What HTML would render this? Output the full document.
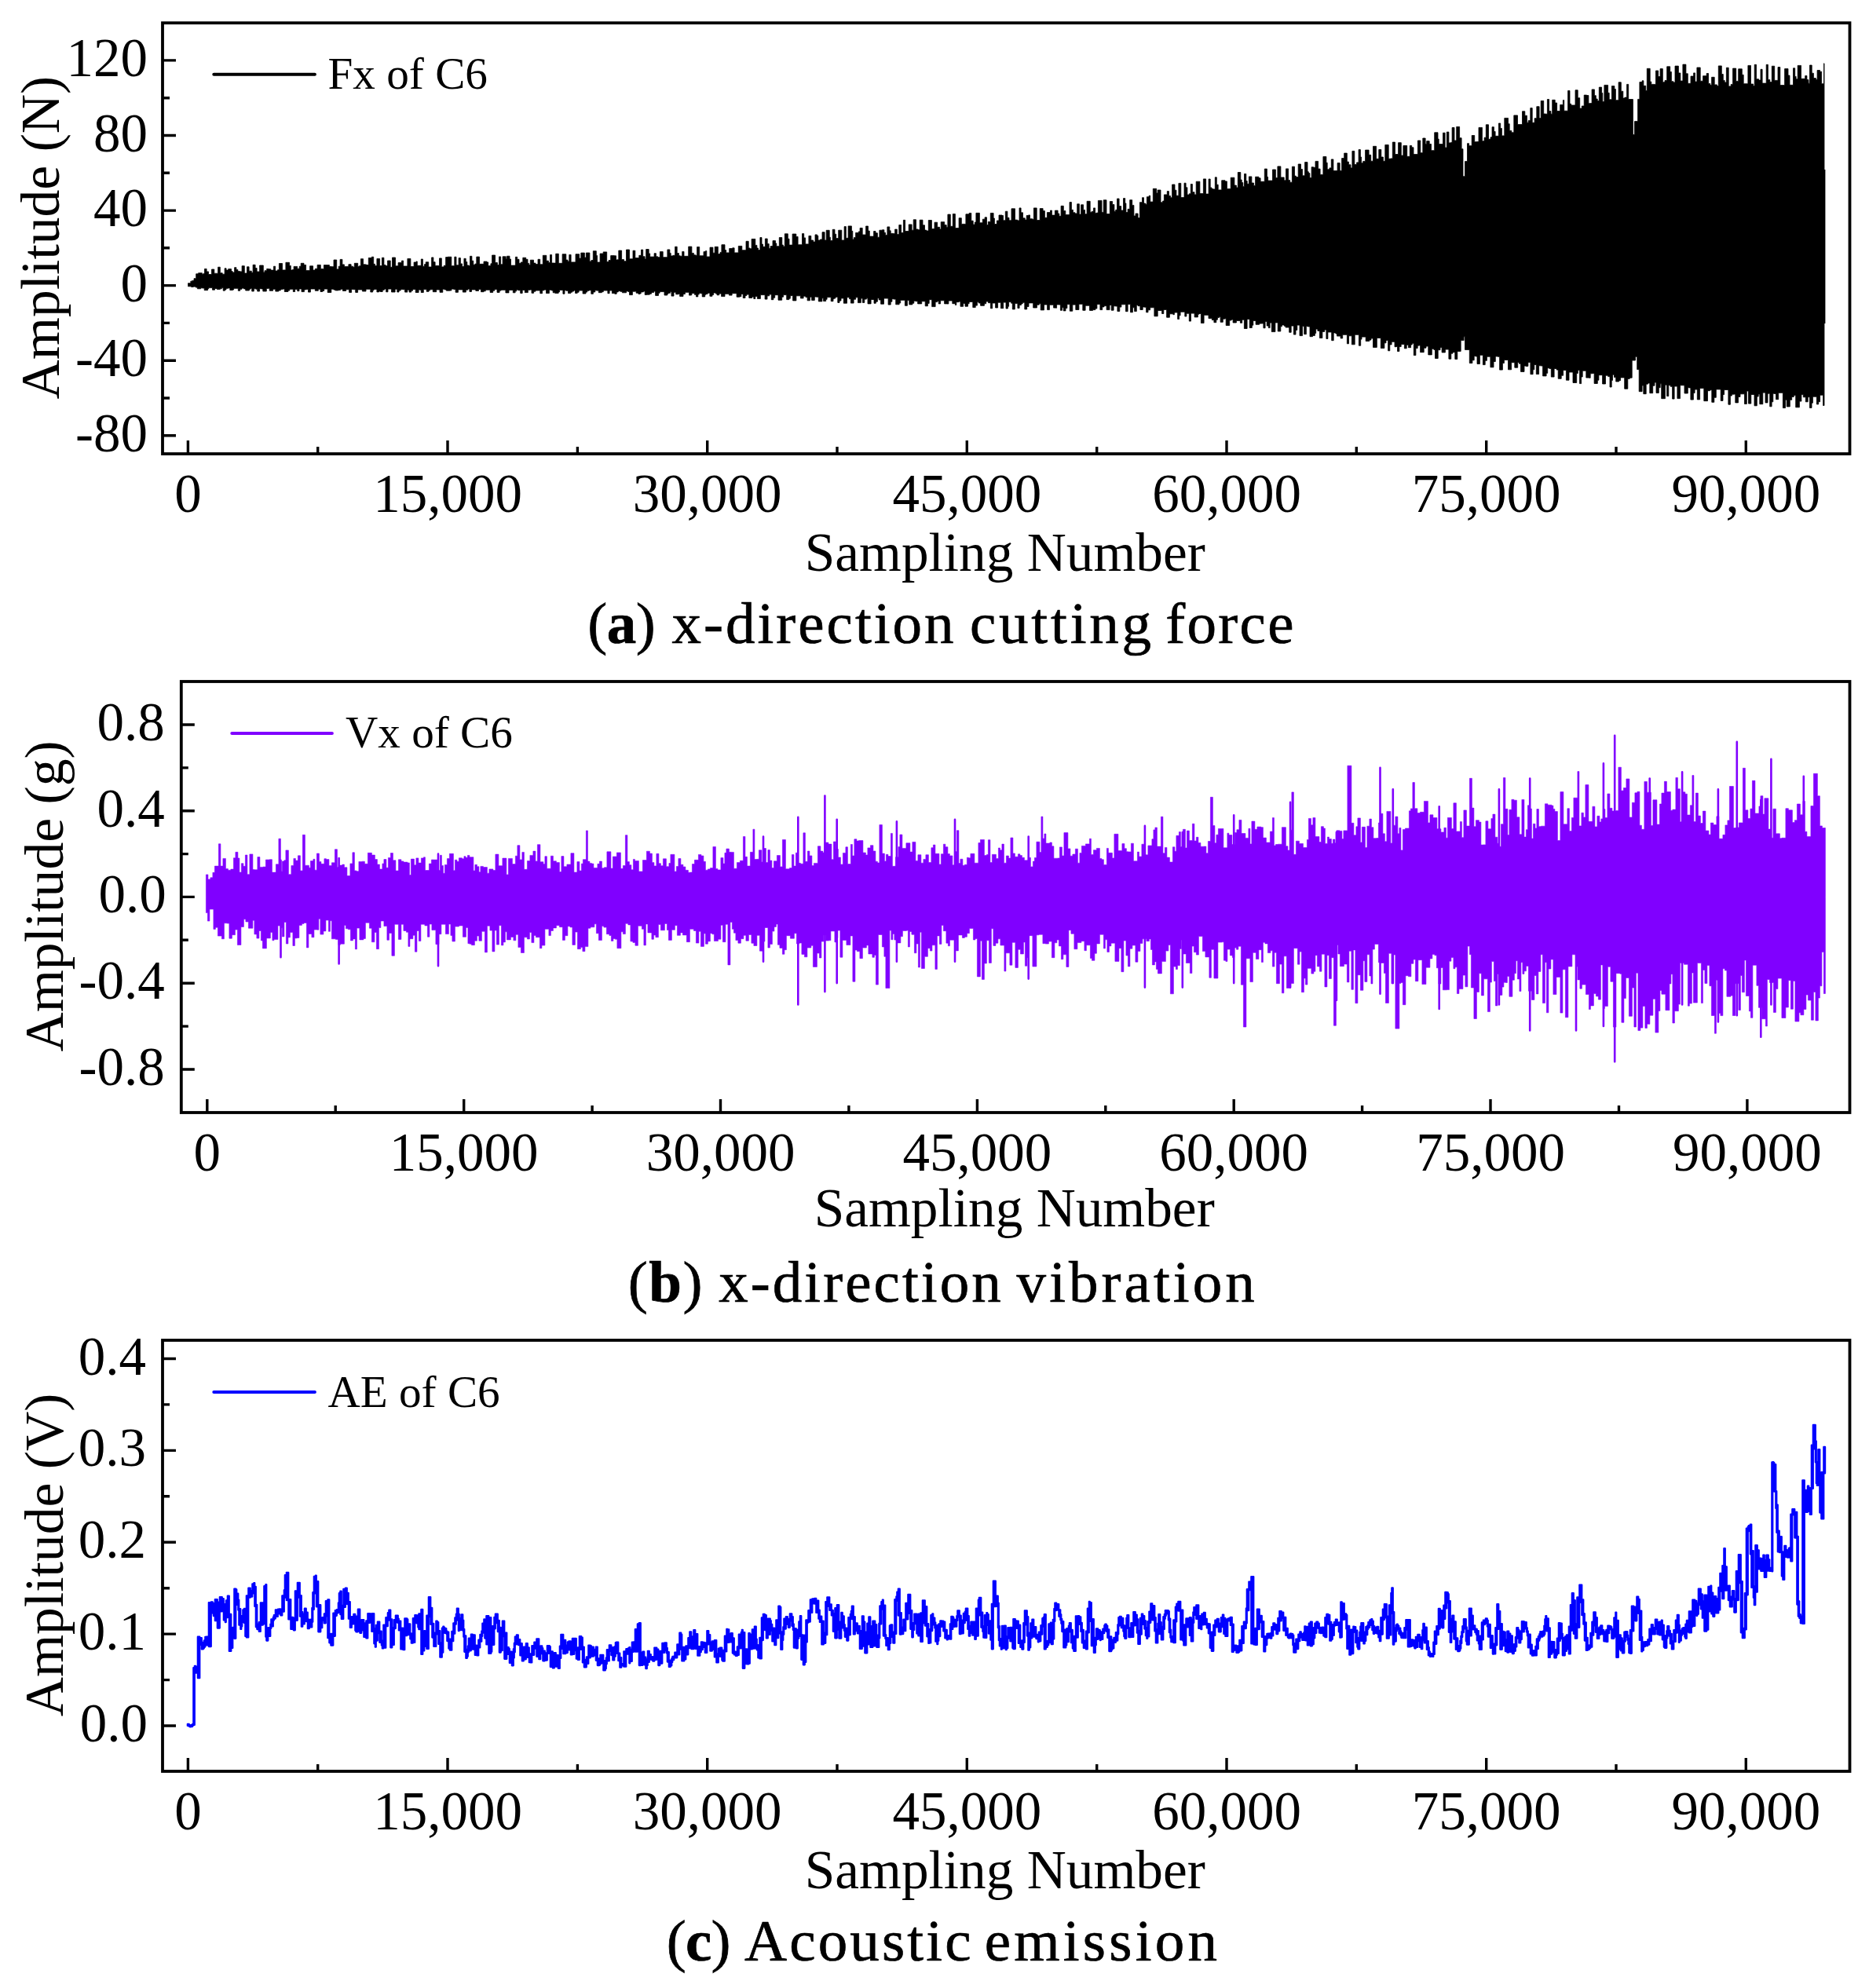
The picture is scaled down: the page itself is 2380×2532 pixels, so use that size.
<!DOCTYPE html>
<html lang="en"><head><meta charset="utf-8"><title>Signals of C6</title>
<style>html,body{margin:0;padding:0;background:#fff;overflow:hidden}svg{display:block}text{font-family:"Liberation Serif","Times New Roman",Times,serif;fill:#000}</style></head><body>
<svg width="2380" height="2532" viewBox="0 0 2380 2532">
<rect width="2380" height="2532" fill="#fff"/>
<path d="M239.5 363.6V360.7H242.8V358.2H244.7V357.5H247.0V354.7H249.7V348.8H252.6V347.7H257.3V349.3H258.9V348.5H260.5V342.4H263.1V345.9H265.5V349.5H269.5V343.0H272.8V348.2H277.6V340.2H280.3V347.7H283.2V349.2H286.1V341.8H288.1V344.1H290.7V342.6H294.5V345.5H296.1V346.9H298.6V340.7H300.9V343.5H302.9V345.6H305.6V345.9H308.1V338.7H311.3V348.0H314.5V339.8H317.1V345.2H320.3V347.3H322.1V337.3H325.1V341.5H327.1V346.0H330.6V338.0H335.3V347.0H337.0V344.7H339.7V342.4H342.3V342.7H344.8V344.1H348.5V339.2H350.6V345.0H353.5V343.7H355.4V335.5H359.5V343.9H363.9V334.3H368.5V338.4H370.3V344.0H372.4V343.5H374.1V339.4H378.6V342.2H381.2V339.2H383.2V335.3H387.0V337.4H389.6V344.6H394.6V338.8H398.6V344.1H401.3V342.3H404.1V337.4H408.3V342.4H410.8V342.7H412.4V337.6H417.2V337.6H419.4V339.5H422.4V339.7H425.0V331.0H428.7V342.9H431.2V339.2H433.1V330.4H435.9V336.9H438.4V339.6H441.4V339.4H443.9V336.7H447.1V339.2H449.6V340.3H451.3V335.3H455.7V339.4H457.5V338.7H459.4V329.7H462.5V336.8H464.9V336.9H466.5V337.5H469.3V328.4H473.3V327.2H475.7V336.3H477.4V338.6H479.9V329.5H483.6V338.6H486.4V328.2H488.9V337.4H490.9V338.6H493.5V332.0H497.2V340.3H499.5V328.0H503.5V338.8H507.1V334.6H511.5V332.1H513.6V339.0H518.9V329.4H522.9V339.5H527.1V334.0H530.0V333.0H531.3V338.3H536.3V330.0H538.4V339.2H540.5V336.6H542.2V333.8H545.7V340.0H549.6V327.9H551.9V333.7H554.1V338.4H559.5V328.9H562.3V339.9H565.3V338.2H567.6V327.6H570.1V327.2H574.8V338.7H578.8V327.2H581.0V337.8H584.1V328.6H586.4V335.9H588.5V339.5H590.9V329.3H593.2V333.5H594.8V337.9H596.9V338.6H598.5V326.3H600.9V332.2H602.8V337.2H605.0V336.1H606.8V327.1H610.5V336.3H616.0V333.1H620.0V333.9H621.7V338.6H624.9V335.8H626.6V325.0H630.6V334.5H633.4V337.5H635.5V326.9H637.6V336.8H640.1V326.8H644.2V329.7H645.5V326.2H649.0V330.0H650.5V338.1H656.4V327.3H658.7V330.3H661.0V335.3H663.4V333.9H665.8V328.2H669.7V330.3H672.0V335.4H673.7V337.4H675.3V331.2H679.5V335.1H682.0V336.6H685.0V330.3H687.7V336.8H691.3V325.3H695.8V332.2H698.5V334.5H700.5V324.5H702.6V335.0H705.7V335.1H707.7V323.2H711.3V335.3H716.1V323.7H720.8V331.1H723.0V333.1H724.8V324.4H727.1V333.9H733.0V323.7H737.7V329.1H739.8V322.1H744.4V328.1H746.3V322.0H750.9V333.0H752.9V331.5H755.3V319.7H759.3V325.5H760.5V334.0H764.1V323.0H768.2V320.9H772.7V333.6H775.1V331.5H777.7V325.6H782.4V325.8H784.5V331.0H786.1V330.8H787.8V319.1H791.6V330.6H794.5V332.7H797.5V318.0H801.5V329.8H806.0V319.2H808.8V328.6H813.8V325.3H816.5V318.1H818.7V326.7H821.1V330.0H822.7V317.5H826.2V322.9H827.7V327.1H833.1V322.7H835.4V326.8H837.7V327.7H840.4V320.6H844.2V327.7H849.9V317.9H852.9V322.4H854.2V325.9H856.9V325.3H859.6V314.2H862.2V322.5H864.4V325.7H866.1V326.2H868.7V320.4H871.0V326.3H876.7V314.1H880.9V322.4H883.4V324.7H885.6V325.3H887.6V314.5H890.7V325.8H896.0V320.6H898.5V319.6H899.8V327.0H904.0V315.1H907.9V322.2H910.2V314.3H914.3V323.5H917.0V321.4H918.9V311.7H923.0V318.6H924.7V321.9H928.7V316.5H932.7V315.8H935.1V321.9H940.3V313.4H944.8V318.7H950.0V307.3H953.2V315.9H954.9V316.8H957.1V304.4H961.8V312.4H963.9V316.0H965.5V318.5H967.9V302.5H970.0V311.1H971.5V314.3H974.4V304.0H977.2V310.6H979.2V316.6H981.1V313.6H984.0V306.6H987.5V309.9H988.8V313.7H992.3V302.5H995.8V312.0H997.3V313.9H999.3V297.8H1003.3V304.2H1005.0V312.1H1009.1V298.0H1013.8V301.4H1016.1V311.7H1021.5V297.6H1023.7V302.9H1025.6V310.9H1029.9V300.4H1032.8V306.0H1035.7V308.1H1038.0V298.9H1040.5V300.2H1041.8V306.0H1044.5V304.9H1047.0V295.7H1050.1V306.0H1052.2V293.3H1056.2V302.2H1057.4V306.5H1060.2V292.3H1063.0V298.2H1064.7V303.6H1067.7V293.2H1071.8V306.0H1075.1V288.6H1077.3V303.3H1080.1V287.9H1084.4V294.3H1085.8V305.0H1087.4V302.6H1089.6V296.4H1093.4V294.9H1095.1V290.4H1098.2V299.0H1102.6V288.0H1105.5V294.1H1107.3V301.1H1112.6V294.5H1115.0V296.8H1117.4V302.2H1119.9V293.2H1123.4V292.8H1125.9V296.3H1127.5V299.4H1129.9V288.9H1132.8V293.8H1134.2V297.3H1137.2V297.6H1139.6V292.1H1142.3V298.6H1144.8V286.5H1147.6V296.5H1150.4V280.3H1152.6V294.5H1157.2V285.9H1161.1V293.2H1163.2V279.8H1166.5V291.9H1168.9V292.7H1171.2V280.2H1175.0V286.8H1177.5V293.1H1179.7V294.0H1182.3V280.5H1186.4V291.6H1190.0V283.2H1193.6V289.3H1196.6V292.0H1198.2V282.7H1202.7V286.6H1205.2V289.4H1206.9V273.1H1210.3V288.3H1213.3V272.5H1216.4V290.6H1221.1V277.7H1224.3V285.4H1229.9V272.8H1234.1V271.4H1236.8V281.2H1239.2V286.1H1241.3V283.1H1242.9V271.3H1247.4V283.8H1251.3V279.2H1254.1V276.8H1256.5V286.6H1258.3V282.4H1261.3V271.4H1265.1V278.0H1266.4V285.5H1269.4V281.0H1272.0V274.0H1276.0V274.5H1277.5V280.8H1280.3V269.2H1282.9V277.3H1285.0V280.8H1288.0V265.8H1292.5V280.1H1295.7V280.9H1298.0V264.9H1300.1V270.8H1302.5V277.8H1305.2V280.1H1307.2V274.5H1309.7V273.9H1311.5V278.7H1314.6V279.3H1316.4V264.9H1320.2V280.5H1324.2V265.6H1328.1V268.6H1330.4V277.3H1333.4V270.6H1337.5V268.0H1339.4V274.1H1343.4V268.1H1347.1V272.0H1348.8V275.3H1351.1V262.3H1354.3V268.5H1356.8V273.6H1362.0V257.5H1364.4V267.3H1366.4V270.7H1368.9V271.9H1371.7V259.8H1374.4V273.1H1376.6V260.8H1379.6V267.4H1381.5V272.7H1384.1V256.3H1388.2V270.2H1390.4V269.3H1392.5V264.9H1394.6V271.4H1396.5V271.1H1398.4V255.4H1403.0V270.4H1405.2V254.8H1409.0V272.5H1413.3V256.6H1416.6V260.5H1418.9V269.2H1420.7V267.3H1422.5V253.0H1425.1V262.6H1427.7V268.0H1430.5V252.6H1432.7V258.9H1433.9V270.5H1436.1V266.3H1438.7V254.7H1441.7V261.4H1443.9V275.0H1446.0V272.0H1449.1V277.6H1451.4V257.7H1454.5V251.7H1456.5V259.0H1458.7V260.2H1460.4V250.7H1463.2V249.2H1464.7V257.1H1468.3V240.3H1472.7V245.9H1474.2V242.0H1478.0V257.8H1480.6V256.0H1482.4V247.9H1486.3V243.6H1488.4V249.4H1490.6V251.8H1492.6V235.0H1496.0V242.2H1497.9V249.2H1500.9V233.4H1503.8V251.6H1508.0V233.2H1510.1V238.8H1511.9V248.1H1514.3V246.8H1516.3V234.5H1518.4V244.7H1521.0V247.9H1523.2V231.2H1527.9V246.6H1532.4V227.9H1535.6V247.1H1539.1V228.0H1541.2V238.9H1542.9V240.5H1544.7V241.0H1547.3V225.8H1549.3V235.2H1551.2V241.9H1555.7V229.8H1560.0V230.9H1562.4V240.6H1567.2V226.2H1571.9V236.1H1574.4V239.0H1576.3V219.5H1579.8V229.0H1581.2V232.6H1582.8V237.7H1584.5V221.4H1586.8V230.5H1588.2V234.3H1590.4V224.9H1593.9V233.0H1596.6V236.4H1598.6V225.2H1602.9V226.8H1605.1V231.3H1610.3V215.1H1613.4V225.3H1614.6V230.1H1620.5V216.0H1624.4V226.6H1626.9V211.9H1630.9V225.9H1633.2V225.9H1635.2V229.8H1637.5V214.9H1640.6V229.6H1642.7V232.2H1645.4V212.2H1648.5V224.1H1650.3V225.6H1653.2V209.0H1656.5V215.5H1658.5V223.8H1661.6V206.6H1665.0V218.7H1666.3V220.6H1667.9V226.6H1670.1V212.8H1672.7V213.3H1675.0V205.4H1678.6V215.1H1681.1V222.4H1684.9V199.5H1688.9V207.3H1690.2V215.8H1693.0V213.9H1695.3V202.9H1697.9V217.6H1703.1V207.6H1706.2V217.4H1708.6V201.6H1711.7V195.1H1715.3V206.1H1717.4V209.8H1720.0V213.9H1721.9V192.4H1724.8V209.6H1727.6V206.9H1730.1V190.6H1732.4V200.0H1733.6V207.7H1735.7V205.4H1738.6V191.1H1743.1V197.3H1745.7V205.2H1748.5V186.3H1752.5V202.3H1755.8V190.5H1758.8V200.0H1761.4V205.3H1763.8V184.5H1768.2V202.2H1771.1V201.9H1773.3V181.1H1776.5V196.5H1780.6V181.7H1784.3V198.1H1786.9V185.5H1791.7V199.3H1795.3V185.5H1797.7V187.8H1800.0V196.6H1805.4V179.0H1808.8V194.7H1811.8V176.0H1815.1V183.4H1816.7V179.7H1820.2V183.5H1822.5V191.7H1826.7V168.8H1831.0V177.1H1832.2V183.6H1837.5V169.2H1840.1V188.1H1842.3V168.1H1844.9V181.9H1847.6V181.4H1849.1V162.5H1852.0V179.0H1854.7V161.4H1858.6V175.7H1861.1V189.7H1863.0V224.7H1865.5V205.6H1868.5V182.7H1870.6V185.7H1874.2V172.5H1877.7V180.7H1880.2V180.6H1883.0V162.4H1887.4V179.7H1890.1V175.2H1892.3V158.8H1895.5V177.3H1898.1V174.8H1900.0V161.7H1902.4V167.5H1904.1V173.3H1908.4V157.0H1910.7V163.5H1912.4V172.9H1915.8V150.4H1920.5V157.7H1922.2V166.5H1924.8V168.8H1927.8V146.9H1932.5V158.6H1938.5V141.8H1941.8V147.2H1944.4V156.2H1946.2V153.6H1948.8V137.6H1951.2V156.3H1954.1V150.7H1956.8V135.7H1960.1V150.6H1962.2V128.4H1965.7V145.0H1968.1V145.2H1970.4V126.5H1972.6V141.5H1974.9V145.2H1976.7V127.3H1980.2V131.0H1982.6V141.5H1986.7V133.4H1990.4V127.6H1991.7V141.2H1996.6V115.5H1999.0V132.3H2000.7V134.0H2006.0V114.8H2009.2V124.7H2011.7V138.1H2014.3V135.0H2017.2V121.1H2020.6V121.5H2022.9V131.7H2025.1V131.6H2027.1V113.9H2030.4V121.7H2032.3V126.0H2034.2V128.6H2036.3V111.1H2039.6V118.5H2040.8V129.6H2042.9V108.4H2047.6V118.3H2049.2V126.8H2052.4V109.6H2055.9V113.5H2057.4V127.7H2061.1V104.8H2064.3V116.2H2066.8V125.1H2068.9V124.1H2071.6V107.4H2073.7V126.5H2079.4V171.5H2081.5V154.6H2085.6V126.4H2087.9V104.5H2091.1V102.8H2092.9V109.3H2095.7V115.6H2097.3V87.3H2101.2V104.1H2102.8V107.4H2108.5V90.0H2111.7V97.5H2114.1V87.6H2117.3V104.7H2120.0V102.5H2122.7V84.8H2126.7V91.5H2128.4V103.7H2130.9V105.0H2133.0V84.1H2137.4V93.0H2139.9V103.1H2142.9V82.1H2146.9V93.8H2149.3V106.3H2153.0V97.1H2156.6V92.9H2158.5V104.1H2160.9V86.0H2165.2V103.2H2168.6V96.7H2173.2V93.5H2175.5V106.5H2177.9V108.5H2179.6V98.3H2183.2V107.9H2186.4V109.6H2188.3V83.9H2192.3V94.5H2194.3V102.4H2196.2V104.9H2198.4V86.2H2201.2V109.9H2204.2V107.4H2206.6V87.1H2210.7V103.4H2213.7V87.8H2218.3V95.3H2220.2V106.7H2225.9V83.4H2229.5V107.0H2232.6V109.5H2234.2V82.3H2236.5V100.7H2239.5V102.1H2242.0V88.3H2244.1V106.1H2249.2V82.3H2251.4V101.6H2253.8V104.6H2256.3V84.2H2259.7V102.4H2264.0V85.5H2266.8V108.6H2272.6V87.6H2277.0V96.1H2279.0V108.3H2283.5V86.8H2285.7V97.4H2287.1V100.8H2289.2V83.4H2293.5V100.3H2298.7V96.5H2300.9V101.6H2303.0V106.2H2304.5V83.0H2307.2V93.2H2309.4V99.6H2312.4V101.4H2314.1V89.5H2317.5V91.2H2319.6V106.7H2322.6V80.8H2323.0V363.6V516.5H2321.6V503.2H2317.6V511.7H2315.7V514.9H2313.4V505.2H2308.4V513.2H2307.0V519.5H2304.5V505.7H2302.2V511.8H2299.3V505.8H2296.3V502.6H2293.9V511.1H2291.4V518.8H2286.7V503.6H2284.3V505.4H2281.7V509.3H2279.3V517.9H2275.2V509.2H2273.5V519.6H2270.4V500.3H2264.7V508.7H2261.5V501.5H2259.5V501.2H2257.8V511.8H2256.1V517.8H2253.7V501.2H2251.0V512.9H2248.0V500.1H2244.8V514.7H2240.8V501.9H2239.2V505.0H2237.3V516.8H2234.0V502.5H2229.8V514.1H2226.5V498.1H2224.3V514.5H2221.5V501.8H2216.0V505.5H2213.5V512.9H2209.8V502.1H2207.9V502.2H2205.3V504.1H2203.4V515.2H2200.9V496.5H2195.6V502.5H2194.0V510.4H2191.2V495.9H2185.3V506.3H2182.8V512.3H2179.8V496.7H2177.4V497.7H2174.5V510.7H2169.8V494.4H2164.6V508.9H2161.3V496.0H2158.1V500.6H2156.4V509.1H2152.9V493.9H2151.0V493.7H2149.3V501.0H2145.0V490.8H2139.5V507.6H2135.9V492.0H2132.1V508.1H2129.6V492.3H2127.2V490.7H2124.8V504.6H2122.6V490.2H2120.4V507.7H2115.7V488.8H2114.2V493.7H2112.3V500.5H2109.0V487.0H2107.0V491.2H2104.7V500.7H2100.8V488.0H2098.4V489.2H2096.2V501.7H2092.8V490.9H2091.1V498.7H2087.2V470.6H2084.7V454.3H2082.5V459.0H2078.2V481.2H2075.3V482.4H2072.8V495.2H2068.7V480.9H2063.5V484.7H2061.6V486.0H2057.7V480.6H2055.5V477.2H2053.5V484.4H2052.2V493.0H2050.0V479.6H2047.7V478.2H2044.5V489.0H2040.6V477.7H2035.9V484.2H2034.3V488.5H2030.1V475.5H2028.3V475.8H2025.2V481.3H2023.5V481.1H2019.8V472.2H2015.2V480.0H2013.6V488.6H2011.5V471.4H2009.3V475.5H2007.7V487.5H2003.0V474.0H1998.0V484.2H1994.4V471.5H1990.6V478.2H1988.2V482.3H1984.2V471.1H1982.2V469.5H1979.1V480.1H1975.3V469.4H1972.9V468.7H1970.7V475.3H1969.1V478.9H1964.6V466.1H1962.7V465.8H1959.6V476.6H1956.3V464.5H1953.8V470.8H1952.1V476.7H1948.9V461.4H1945.9V466.4H1943.0V466.0H1941.0V473.4H1936.5V463.2H1934.5V461.5H1932.7V468.2H1928.8V461.7H1924.6V470.8H1920.5V458.5H1915.4V462.5H1913.4V471.1H1909.6V454.3H1907.4V453.9H1904.3V460.5H1902.0V467.8H1897.9V454.2H1893.4V459.3H1891.2V464.6H1888.4V452.3H1884.4V463.5H1881.0V453.9H1879.2V453.6H1877.2V458.8H1874.9V462.5H1871.3V445.4H1865.5V428.8H1864.1V433.6H1860.2V447.4H1855.8V457.4H1852.8V448.7H1849.9V450.2H1847.8V457.2H1844.9V445.0H1840.4V448.9H1836.1V442.4H1834.0V445.7H1831.2V456.5H1827.5V445.4H1825.9V444.3H1823.3V451.9H1818.8V441.0H1816.0V443.2H1813.2V448.7H1808.6V439.9H1806.7V440.2H1805.2V443.6H1802.9V452.6H1800.3V437.3H1798.2V439.0H1796.6V442.7H1793.4V439.3H1791.2V443.8H1788.4V438.5H1784.2V441.5H1781.9V447.5H1779.5V441.5H1778.1V441.7H1776.0V435.3H1772.1V438.9H1769.8V446.8H1767.6V433.5H1765.0V436.8H1762.9V443.4H1758.3V430.5H1753.3V442.4H1748.5V431.0H1745.9V433.1H1743.8V434.5H1739.2V429.1H1734.0V432.1H1732.7V440.2H1730.4V426.3H1725.2V438.8H1721.4V427.8H1717.5V437.8H1715.4V426.3H1709.7V430.9H1707.1V428.1H1702.5V425.1H1700.9V423.9H1698.2V433.7H1695.7V423.0H1690.9V431.5H1688.9V419.9H1686.8V422.4H1683.9V430.5H1680.4V421.4H1677.9V419.1H1675.7V424.5H1674.4V427.4H1671.5V428.7H1668.0V415.9H1665.1V415.4H1663.4V425.7H1660.7V415.6H1658.5V427.6H1655.0V414.1H1651.8V420.4H1650.0V426.1H1647.4V415.1H1644.2V423.3H1641.7V417.0H1637.0V415.2H1635.2V413.9H1632.4V415.8H1630.8V422.0H1627.2V410.9H1623.9V422.6H1619.3V411.1H1617.1V417.6H1615.3V415.0H1613.2V409.4H1611.1V417.8H1608.9V411.9H1606.5V412.1H1603.6V413.3H1599.1V408.4H1595.8V414.2H1594.3V417.5H1591.2V406.4H1588.1V418.5H1584.4V407.2H1581.7V411.3H1579.4V408.4H1574.4V411.0H1570.1V406.9H1568.1V408.0H1565.7V414.5H1561.2V405.7H1559.7V406.2H1557.3V410.3H1554.1V403.6H1552.4V404.5H1550.4V407.2H1548.8V410.7H1545.9V407.6H1543.4V405.6H1539.0V401.3H1533.1V411.5H1529.4V399.5H1526.9V400.3H1525.4V403.9H1521.1V399.1H1516.5V409.1H1514.3V399.2H1510.9V403.0H1508.8V397.2H1503.1V401.8H1501.6V406.4H1499.6V398.0H1495.4V400.7H1493.9V399.8H1489.4V404.2H1485.6V394.4H1481.8V399.5H1479.6V395.5H1474.2V402.8H1469.9V391.8H1464.6V394.8H1462.0V397.8H1459.6V391.3H1457.6V391.0H1455.2V394.5H1451.9V389.7H1449.0V388.5H1447.3V396.6H1444.6V391.8H1442.4V397.8H1439.5V387.5H1436.1V396.7H1433.5V387.8H1427.9V391.1H1425.8V396.5H1422.9V390.0H1420.4V389.8H1418.1V395.2H1415.2V388.5H1413.0V394.6H1409.1V389.6H1406.0V390.9H1403.7V394.6H1400.9V387.5H1396.9V393.0H1394.9V394.6H1391.6V395.4H1387.5V389.2H1382.1V395.3H1378.8V387.3H1373.9V394.5H1369.8V388.1H1365.8V396.2H1362.3V387.6H1358.9V392.6H1357.0V395.9H1354.2V391.7H1352.4V395.3H1350.4V388.0H1348.1V387.9H1345.6V392.2H1344.3V392.1H1341.6V388.2H1336.4V394.6H1333.6V388.0H1329.5V394.9H1325.2V386.8H1323.2V388.2H1320.4V392.0H1315.7V385.9H1310.0V390.5H1307.7V393.9H1304.8V385.3H1302.2V386.9H1300.4V388.6H1298.1V392.5H1295.9V386.6H1292.3V393.9H1289.3V386.2H1287.7V384.6H1284.6V390.3H1283.4V393.0H1281.0V385.1H1277.7V392.7H1274.4V385.2H1270.6V392.0H1267.6V386.0H1263.7V392.8H1261.4V385.7H1258.5V384.0H1255.7V386.8H1253.4V389.3H1248.6V386.0H1246.2V384.6H1244.4V389.1H1242.2V391.6H1238.8V384.4H1234.1V386.8H1232.5V390.2H1229.0V386.6H1226.6V390.3H1223.0V384.0H1220.9V384.7H1217.8V388.4H1216.4V386.7H1212.8V383.0H1207.9V387.0H1206.0V386.9H1202.6V382.8H1197.6V386.9H1195.2V383.4H1193.5V384.6H1191.1V390.6H1186.7V381.7H1183.2V386.4H1181.4V389.8H1178.2V383.8H1173.7V386.9H1172.4V386.9H1168.6V383.7H1166.0V383.2H1163.8V386.2H1161.9V387.9H1157.8V382.6H1155.4V389.3H1152.4V382.3H1146.7V386.0H1145.1V387.8H1140.7V381.1H1138.0V380.7H1135.9V384.2H1134.2V388.1H1131.1V380.0H1125.5V387.2H1121.6V382.0H1119.2V379.7H1117.4V384.2H1115.3V386.3H1113.0V381.5H1109.1V386.9H1105.0V379.8H1103.3V381.1H1100.8V385.4H1098.4V380.0H1096.3V385.6H1092.5V378.8H1089.7V381.2H1087.1V386.1H1083.4V380.7H1081.6V378.8H1078.5V386.2H1074.3V379.9H1071.0V383.0H1069.0V385.4H1066.8V378.3H1063.9V380.0H1062.2V380.6H1061.0V383.7H1058.2V378.6H1053.1V381.3H1051.7V383.6H1048.6V379.8H1046.9V383.9H1042.3V378.2H1039.6V378.0H1037.3V382.4H1033.6V378.3H1031.4V382.8H1028.1V378.5H1025.9V377.2H1023.1V379.9H1019.4V376.8H1013.9V382.9H1009.6V376.5H1007.9V376.8H1006.3V380.2H1004.8V381.6H1001.7V375.6H997.5V378.2H995.7V382.2H991.0V375.7H986.7V379.2H984.9V381.7H982.3V374.9H979.7V376.8H977.0V381.1H974.1V375.6H968.4V380.4H964.4V377.4H961.8V380.5H959.8V377.9H957.8V379.4H953.8V375.1H950.8V376.5H949.0V379.5H946.2V374.4H943.9V377.7H941.9V378.2H938.1V373.7H932.1V376.1H928.4V374.3H923.0V377.6H918.6V374.0H915.8V375.8H913.0V374.1H911.4V372.9H908.7V375.4H907.0V377.3H903.9V373.2H901.1V374.5H899.0V375.2H897.7V377.9H894.2V373.8H892.1V373.2H890.3V374.9H888.8V377.9H886.5V375.3H884.4V373.5H880.9V375.8H879.6V376.1H877.5V372.3H872.4V374.5H870.0V377.4H865.6V374.2H864.1V374.8H860.7V372.3H858.0V377.1H855.0V371.4H853.4V373.3H851.0V374.2H849.8V376.0H846.0V371.6H840.1V373.3H838.5V376.4H834.6V371.0H832.7V372.4H829.5V374.2H827.3V375.2H823.7V375.4H821.2V370.9H819.3V371.9H816.2V373.9H815.0V374.4H812.9V373.2H810.1V371.0H808.5V371.2H805.4V375.6H801.5V371.5H800.0V370.9H797.5V372.8H795.7V372.8H792.4V371.3H790.0V370.7H787.2V371.9H785.2V374.3H782.8V373.6H779.4V370.0H776.1V373.7H773.9V370.0H768.3V371.7H766.3V372.7H762.3V370.1H759.6V369.8H757.8V372.0H755.4V374.3H752.8V369.7H750.1V370.3H747.7V372.1H746.0V374.0H742.1V370.0H737.1V372.2H735.2V373.4H732.5V370.0H730.5V371.1H728.6V372.2H726.8V373.6H723.5V370.3H721.0V369.8H719.0V374.2H716.9V369.4H712.5V371.9H711.2V373.4H706.8V372.8H704.2V370.0H702.4V369.3H699.4V373.5H695.5V369.1H692.7V369.9H690.5V373.7H687.8V370.0H681.9V371.2H679.6V373.3H677.0V369.0H674.9V369.3H672.3V372.6H668.3V369.4H665.2V373.4H662.7V369.8H659.8V368.9H657.8V370.8H656.1V372.8H653.3V369.4H648.0V372.9H643.9V369.3H638.1V370.1H636.1V372.4H633.0V368.6H629.8V370.2H627.7V372.4H624.1V369.2H618.3V370.8H616.0V371.7H612.5V368.6H609.5V370.4H605.8V368.9H600.5V371.4H597.9V368.1H595.8V369.3H593.3V372.1H589.3V368.9H583.4V372.3H580.1V368.5H577.7V368.1H574.9V370.0H572.8V370.2H568.3V368.9H566.1V368.2H563.8V372.3H560.0V369.0H557.9V368.9H555.7V371.7H551.3V368.8H547.6V369.8H546.1V371.3H543.2V368.6H539.3V372.5H536.2V369.3H534.7V368.9H533.1V372.5H529.2V368.5H525.5V370.2H523.7V372.1H521.0V369.2H518.8V372.1H515.6V368.8H513.0V368.6H510.2V370.0H508.0V372.0H505.8V368.3H503.1V372.0H498.5V368.1H494.0V371.8H491.6V368.1H489.4V369.3H487.2V371.5H484.2V370.9H482.6V371.9H479.9V368.4H476.0V369.8H474.7V372.0H471.8V368.3H466.0V371.0H461.4V368.9H455.6V372.4H452.7V368.7H450.2V368.4H447.6V372.4H444.6V368.8H440.6V370.5H436.4V368.3H433.6V369.5H430.9V369.9H426.9V369.1H424.9V368.2H421.8V372.5H417.2V368.1H412.7V370.5H410.8V371.5H408.0V368.3H405.3V370.3H401.3V368.0H395.4V372.1H392.5V368.5H389.7V368.9H387.4V371.6H384.0V367.9H381.0V370.7H378.7V368.4H375.6V371.5H373.3V368.3H368.8V370.1H366.9V371.5H362.3V368.1H360.0V368.4H357.3V369.9H354.8V371.1H350.8V368.3H347.6V370.3H343.2V367.3H341.4V367.4H339.3V371.0H334.8V368.0H332.9V367.7H330.6V371.0H327.7V368.3H325.9V367.8H323.3V371.0H320.7V367.3H319.0V368.2H317.4V370.0H312.7V367.9H310.5V367.1H308.0V368.3H305.7V370.3H303.3V367.3H297.6V369.0H296.3V369.6H292.8V366.9H290.4V367.3H288.0V369.0H286.4V370.2H284.2V366.6H282.3V367.8H280.2V368.5H276.3V367.5H273.5V369.2H270.5V366.6H267.6V366.6H265.7V367.9H264.5V369.7H260.2V367.0H257.6V366.8H255.6V367.8H251.4V366.1H249.3V365.1H246.2V365.5H243.6V364.8H239.5Z" fill="#000" stroke="#000" stroke-width="0.8" stroke-linejoin="round"/>
<path d="M2323.4 216V412" stroke="#000" stroke-width="2"/>
<path d="M262.4 1142.4V1113.9H264.9V1119.9H267.9V1117.8H270.9V1111.3H273.4V1103.1H278.4V1074.8H280.9V1103.1H283.9V1093.4H287.4V1106.6H290.4V1108.2H293.9V1107.1H297.4V1092.8H299.9V1085.3H302.9V1093.0H304.9V1111.1H307.4V1099.7H309.9V1103.3H312.4V1089.0H314.9V1113.7H317.9V1087.9H321.9V1107.6H323.9V1107.8H327.9V1091.5H330.9V1104.4H334.9V1104.1H338.4V1095.0H343.4V1094.7H346.4V1111.1H351.4V1100.8H354.9V1068.2H357.4V1110.0H359.4V1096.9H361.9V1095.7H363.9V1082.9H367.4V1113.7H370.9V1102.5H373.9V1093.4H376.4V1096.1H379.4V1089.8H382.4V1109.0H385.4V1063.3H388.4V1102.2H393.4V1105.2H395.4V1096.6H398.9V1094.3H400.9V1108.2H403.4V1087.0H406.4V1097.5H408.9V1100.3H412.9V1093.7H415.4V1094.6H418.9V1102.6H422.4V1098.8H426.4V1081.8H429.4V1104.5H432.4V1102.1H435.9V1101.1H438.4V1104.8H441.9V1115.5H445.9V1099.9H448.9V1085.8H451.4V1108.9H453.9V1109.7H456.9V1097.4H460.9V1097.2H464.4V1100.3H468.4V1086.3H473.4V1089.0H477.4V1094.6H480.4V1101.0H483.4V1107.0H486.9V1100.0H488.9V1094.5H491.9V1105.2H494.4V1092.5H497.4V1086.5H500.4V1095.8H503.9V1109.1H507.4V1094.8H510.9V1096.9H513.9V1098.1H518.9V1098.9H521.4V1114.5H523.4V1094.1H527.4V1101.8H529.9V1092.9H532.9V1099.1H536.4V1092.9H539.4V1091.8H541.4V1108.5H546.4V1100.1H549.4V1095.0H551.9V1095.1H556.9V1108.4H560.4V1089.3H562.4V1102.4H564.4V1112.3H566.4V1101.4H569.4V1093.6H572.4V1087.3H577.4V1108.8H579.4V1095.2H581.9V1097.3H584.4V1092.8H588.4V1093.8H590.9V1090.7H592.9V1092.2H595.4V1089.4H597.9V1091.7H602.9V1109.0H604.9V1101.3H607.4V1103.7H609.9V1110.7H611.9V1103.4H615.4V1104.6H620.4V1112.2H622.9V1106.9H627.9V1108.5H630.9V1088.1H634.9V1102.7H639.9V1093.1H644.9V1114.0H647.4V1093.4H652.4V1100.6H656.4V1090.2H658.9V1076.7H661.9V1094.9H664.9V1085.4H667.4V1107.3H671.4V1096.5H674.9V1089.4H678.9V1084.1H681.9V1096.9H684.4V1075.7H687.9V1097.7H691.9V1100.6H693.9V1090.7H696.4V1106.2H701.4V1090.2H704.4V1096.7H708.4V1098.6H712.4V1110.5H714.9V1090.6H717.9V1103.8H721.9V1101.0H726.9V1086.7H730.9V1111.0H734.9V1097.6H737.9V1109.1H740.4V1100.1H742.4V1094.7H746.4V1057.9H748.4V1097.1H750.9V1099.4H753.4V1100.1H755.9V1105.4H760.9V1100.3H763.4V1097.0H766.4V1105.7H769.4V1104.8H772.9V1084.8H777.9V1106.1H780.4V1091.0H785.4V1085.9H790.4V1106.3H793.4V1102.5H796.4V1063.7H798.9V1097.6H801.4V1101.7H803.9V1107.8H806.4V1094.4H808.4V1096.4H813.4V1110.0H818.4V1095.6H823.4V1084.2H827.4V1087.1H830.4V1098.6H832.9V1102.9H835.9V1087.3H838.9V1099.7H841.4V1102.7H844.4V1093.8H848.4V1103.7H851.9V1099.5H853.9V1088.3H858.9V1110.1H861.4V1103.5H863.9V1093.5H866.9V1101.2H869.9V1104.0H872.9V1108.3H876.4V1111.2H878.9V1111.1H881.4V1100.5H884.4V1095.3H889.4V1088.4H892.9V1090.0H895.9V1097.3H898.4V1108.2H901.4V1106.9H904.4V1105.6H907.9V1078.4H911.4V1106.5H913.9V1107.9H917.9V1092.6H920.9V1100.0H922.9V1086.3H924.9V1081.1H928.4V1085.3H931.4V1085.4H934.4V1106.2H938.4V1098.6H942.4V1096.2H946.4V1065.5H948.9V1091.3H951.4V1103.0H955.4V1085.3H958.9V1056.2H960.9V1094.5H963.4V1094.3H966.4V1082.8H969.9V1097.9H972.9V1080.5H975.4V1098.5H977.9V1082.6H980.4V1096.0H982.9V1105.5H985.4V1096.7H989.4V1089.5H993.4V1103.9H996.4V1069.5H1000.4V1106.8H1005.4V1105.6H1008.4V1088.5H1010.9V1103.1H1013.4V1086.2H1016.4V1099.3H1019.4V1100.2H1022.9V1060.8H1025.4V1097.3H1028.4V1084.0H1030.9V1089.9H1033.9V1102.6H1036.4V1099.4H1041.4V1077.8H1044.9V1084.1H1047.9V1086.0H1049.9V1073.1H1054.9V1075.1H1058.9V1094.7H1061.4V1072.0H1064.4V1081.5H1067.4V1091.9H1070.4V1101.0H1073.4V1086.4H1076.9V1078.8H1079.4V1100.5H1083.4V1075.5H1085.4V1090.0H1087.9V1068.8H1090.9V1071.1H1093.4V1070.6H1095.9V1070.6H1098.9V1086.0H1102.4V1088.9H1104.9V1079.9H1108.4V1076.7H1111.9V1084.0H1114.9V1097.2H1117.4V1098.9H1119.9V1050.5H1123.4V1087.1H1126.4V1096.9H1128.4V1088.3H1130.9V1090.5H1134.4V1061.4H1136.4V1103.3H1140.4V1091.7H1143.9V1078.6H1145.9V1063.0H1148.9V1080.4H1153.9V1073.8H1158.9V1085.1H1161.9V1072.4H1165.9V1096.4H1168.9V1088.7H1172.9V1099.2H1175.9V1094.4H1178.9V1088.7H1182.4V1098.5H1185.9V1079.7H1188.4V1076.1H1190.9V1087.3H1195.9V1100.9H1198.4V1087.7H1201.4V1075.2H1203.9V1078.7H1206.9V1087.5H1209.4V1089.9H1212.9V1101.8H1215.4V1084.4H1218.4V1057.7H1220.9V1099.5H1222.9V1094.2H1225.9V1102.3H1228.4V1101.3H1231.4V1092.2H1233.4V1092.8H1235.9V1087.3H1240.9V1099.2H1245.9V1073.5H1248.4V1069.4H1253.4V1089.5H1256.4V1088.5H1258.4V1069.7H1260.9V1098.6H1263.4V1088.3H1268.4V1093.6H1271.4V1080.0H1273.4V1082.8H1275.9V1075.1H1278.4V1099.2H1281.4V1090.0H1284.4V1093.1H1286.9V1067.0H1289.9V1086.9H1292.4V1091.2H1296.4V1087.8H1298.9V1089.6H1301.4V1092.3H1304.4V1095.8H1309.4V1092.3H1312.4V1103.9H1315.4V1097.1H1317.4V1092.4H1319.9V1072.2H1323.9V1085.5H1325.9V1040.1H1327.9V1068.0H1329.9V1062.0H1331.9V1074.1H1336.9V1073.0H1339.4V1077.8H1341.9V1093.2H1346.9V1093.0H1349.4V1078.9H1352.4V1090.0H1354.9V1060.6H1359.9V1080.9H1362.9V1090.2H1365.9V1088.0H1369.4V1081.2H1372.4V1099.2H1374.9V1086.4H1377.4V1077.4H1382.4V1074.9H1387.4V1068.2H1389.4V1088.5H1392.4V1082.7H1396.4V1080.4H1400.4V1093.5H1402.9V1094.8H1405.4V1101.4H1409.4V1080.4H1411.4V1086.3H1416.4V1092.9H1418.9V1062.3H1423.9V1083.4H1428.9V1074.6H1431.9V1080.7H1434.4V1084.7H1436.4V1084.9H1440.4V1074.2H1443.4V1096.8H1448.4V1085.1H1450.4V1091.0H1453.9V1075.2H1456.9V1088.8H1461.9V1077.0H1466.9V1068.7H1468.9V1056.9H1470.9V1054.0H1473.4V1078.1H1478.4V1040.2H1480.9V1086.7H1483.4V1079.4H1485.9V1092.1H1489.4V1098.0H1493.4V1078.8H1495.9V1084.3H1497.9V1064.3H1501.4V1059.5H1503.4V1078.5H1506.4V1056.3H1509.4V1079.9H1511.4V1058.1H1514.4V1070.6H1518.4V1049.2H1520.9V1071.1H1523.4V1066.3H1525.9V1073.4H1528.9V1078.2H1532.9V1078.1H1535.9V1086.7H1538.4V1071.5H1541.4V1015.3H1544.4V1051.6H1546.9V1073.8H1548.9V1063.2H1551.4V1055.4H1553.9V1055.4H1557.9V1079.8H1562.9V1061.2H1564.9V1063.5H1568.9V1075.6H1572.4V1060.4H1574.9V1056.7H1577.9V1044.4H1580.9V1061.5H1585.9V1067.4H1589.9V1055.3H1591.9V1074.9H1593.9V1046.1H1597.9V1056.3H1600.9V1053.1H1605.9V1053.7H1608.4V1067.1H1612.4V1073.1H1617.4V1059.1H1620.4V1041.6H1622.4V1077.1H1624.4V1075.5H1627.4V1075.2H1632.4V1053.7H1637.4V1077.7H1639.9V1083.1H1642.9V1057.2H1644.9V1008.9H1647.4V1088.3H1650.4V1071.2H1654.4V1074.4H1659.4V1079.6H1664.4V1069.5H1666.4V1042.4H1669.4V1050.8H1671.9V1041.6H1674.9V1065.6H1679.9V1072.6H1682.4V1052.7H1685.4V1055.0H1687.4V1074.4H1690.4V1066.1H1692.4V1068.5H1695.4V1074.3H1697.4V1069.1H1699.9V1073.8H1701.9V1057.8H1705.9V1058.4H1708.9V1068.6H1710.9V1057.9H1715.9V975.2H1720.9V1048.3H1723.9V1063.8H1726.9V1052.8H1728.9V1041.9H1732.4V1072.9H1734.4V1053.3H1738.4V1079.6H1740.9V1052.2H1743.9V1043.1H1746.4V1053.8H1748.9V1067.7H1752.9V1067.5H1755.4V1048.0H1757.9V1036.2H1760.9V1061.8H1763.4V1071.8H1765.9V1033.4H1770.9V1074.0H1773.9V1051.2H1776.9V1040.1H1779.9V1061.8H1781.9V1054.4H1783.9V1082.9H1786.4V1056.5H1789.4V1055.0H1794.4V1032.8H1796.4V1029.9H1798.9V996.6H1801.4V1029.8H1804.9V1035.5H1808.4V1034.3H1813.4V1020.4H1818.4V1047.9H1820.9V1037.8H1824.9V1041.5H1829.9V1055.7H1834.9V1059.9H1838.9V1054.3H1841.4V1067.2H1843.4V1041.4H1848.4V1055.5H1850.9V1022.8H1854.4V1058.9H1859.4V1046.6H1861.4V1066.7H1863.9V1031.9H1867.4V1052.1H1871.4V991.3H1874.4V1029.1H1876.9V1052.8H1879.4V1044.7H1883.4V1047.0H1885.9V1076.1H1888.9V1075.9H1891.9V1045.8H1894.9V1055.7H1898.9V1042.6H1900.9V1037.1H1903.9V1066.2H1906.9V1074.2H1909.4V1078.2H1911.4V1049.7H1914.4V990.6H1916.9V1030.3H1919.9V1063.6H1921.9V1031.3H1924.9V1018.3H1927.9V1019.2H1931.4V1040.8H1934.9V1062.8H1937.9V1018.4H1940.9V1066.1H1943.4V1056.7H1945.4V1025.8H1947.4V1030.1H1950.4V1068.1H1952.4V1049.3H1954.9V1054.9H1956.9V1030.5H1959.4V1052.7H1962.4V1052.2H1967.4V1023.8H1970.9V1025.2H1975.9V1026.1H1977.9V1030.4H1979.9V1033.6H1983.4V1070.6H1986.9V1008.6H1990.9V1049.8H1995.9V1029.7H1998.4V1058.6H2001.4V1041.5H2003.9V1016.2H2008.9V982.6H2010.9V1051.9H2013.9V1035.2H2016.4V1040.9H2018.9V999.6H2022.9V1046.3H2027.9V1027.2H2030.9V1053.0H2033.9V1039.3H2036.9V1046.9H2038.9V1042.9H2041.4V1030.5H2043.9V1041.4H2046.9V1011.0H2049.9V1029.3H2052.9V1032.9H2057.9V1032.4H2060.9V977.2H2064.4V1007.1H2067.4V1003.5H2070.9V992.0H2074.9V1041.0H2078.4V1022.2H2081.9V1009.8H2084.9V1008.3H2087.9V1051.2H2090.4V1056.3H2093.9V995.4H2097.4V1009.2H2102.4V1051.5H2104.9V1018.8H2109.9V1050.1H2113.4V1024.0H2115.9V1010.1H2119.4V995.3H2122.4V1008.5H2127.4V1032.2H2129.9V1031.1H2133.9V990.4H2136.4V1004.8H2139.4V1046.8H2142.9V1008.8H2145.9V1011.2H2148.4V1038.0H2152.4V1025.7H2154.9V987.6H2156.9V1046.6H2159.4V1010.1H2162.4V1039.1H2165.4V1048.5H2168.4V1033.1H2171.9V1058.0H2175.9V1063.1H2178.4V1048.1H2181.9V1050.5H2185.9V1039.8H2188.9V1068.2H2193.9V1063.3H2196.9V1050.9H2199.9V1044.9H2202.4V1001.5H2207.4V1054.5H2210.9V1053.9H2214.4V1047.9H2219.4V978.3H2222.4V1031.8H2225.9V1042.5H2228.9V1030.1H2231.4V994.3H2234.9V1036.0H2239.9V1026.9H2241.9V1013.7H2244.9V1037.1H2246.9V1016.8H2251.9V1056.1H2255.4V1067.3H2257.9V1030.2H2261.4V1061.8H2266.4V1067.7H2268.9V1067.3H2273.9V1029.7H2277.4V1031.8H2282.4V1047.5H2285.4V1044.7H2288.4V1024.0H2292.4V1037.7H2295.9V1020.5H2298.4V1059.2H2300.9V1065.6H2305.9V1026.5H2309.4V985.3H2314.4V1013.8H2317.4V1051.9H2320.4V1054.5H2324.4V1142.4V1265.5H2322.4V1212.6H2319.9V1255.8H2317.4V1271.1H2315.4V1299.9H2311.9V1263.5H2309.4V1299.2H2306.4V1274.0H2302.4V1267.0H2299.9V1285.5H2296.9V1292.7H2292.9V1289.8H2290.9V1301.0H2285.9V1249.4H2283.4V1285.2H2280.4V1248.7H2277.4V1283.0H2273.9V1296.5H2268.9V1246.1H2263.9V1259.6H2261.4V1289.4H2258.4V1251.4H2253.4V1247.5H2250.4V1307.0H2248.4V1297.7H2243.4V1283.3H2239.4V1255.3H2236.9V1229.3H2231.9V1296.3H2229.4V1287.9H2227.4V1268.5H2223.4V1222.9H2221.4V1263.8H2218.4V1242.5H2216.4V1286.6H2213.9V1252.7H2209.9V1293.5H2206.4V1268.1H2203.9V1269.3H2198.9V1236.0H2196.4V1233.7H2193.9V1293.6H2190.9V1290.4H2187.4V1248.3H2185.4V1316.2H2183.4V1293.5H2179.4V1255.7H2176.9V1229.6H2173.9V1252.5H2170.9V1235.5H2168.4V1277.6H2166.4V1226.6H2161.4V1277.1H2156.4V1239.0H2154.4V1278.1H2151.4V1281.2H2149.4V1228.3H2144.4V1226.4H2141.9V1226.4H2139.4V1279.1H2137.4V1287.7H2132.4V1303.0H2129.9V1240.7H2127.9V1252.9H2125.9V1286.7H2120.9V1266.2H2115.9V1261.5H2113.9V1287.6H2111.9V1315.1H2107.9V1272.3H2104.9V1293.2H2100.9V1304.3H2097.4V1309.4H2094.9V1281.6H2091.9V1309.1H2088.9V1312.6H2085.9V1239.2H2083.4V1308.0H2080.9V1258.0H2078.4V1294.3H2074.4V1245.4H2070.4V1271.5H2067.9V1302.3H2064.9V1240.3H2062.9V1239.7H2057.9V1308.1H2054.4V1250.2H2050.9V1231.3H2047.4V1281.6H2043.4V1284.6H2041.4V1228.9H2038.4V1273.1H2035.4V1268.9H2032.4V1265.6H2029.4V1280.9H2025.4V1285.6H2023.4V1266.5H2019.4V1254.1H2014.4V1259.2H2011.9V1247.9H2008.9V1231.1H2006.9V1215.8H2001.9V1230.9H1996.9V1295.8H1993.4V1234.8H1989.9V1290.1H1986.9V1244.5H1981.9V1266.6H1977.9V1221.9H1974.9V1234.0H1971.9V1289.8H1969.4V1225.7H1967.4V1277.6H1964.4V1215.7H1961.9V1237.4H1958.9V1265.9H1956.4V1242.5H1953.9V1273.4H1950.4V1262.2H1946.4V1230.4H1943.4V1236.8H1940.9V1240.4H1938.9V1225.7H1936.9V1262.5H1934.9V1246.9H1932.4V1223.7H1930.4V1239.7H1928.4V1248.2H1925.9V1269.3H1921.9V1243.4H1919.4V1251.5H1917.4V1251.2H1914.9V1257.1H1912.9V1267.4H1908.9V1240.4H1906.9V1280.9H1904.4V1249.6H1902.4V1224.6H1899.4V1251.1H1897.4V1288.6H1894.4V1246.8H1889.4V1267.9H1886.4V1239.8H1883.4V1263.4H1880.4V1297.5H1876.9V1258.0H1873.4V1215.7H1871.4V1205.1H1868.9V1256.8H1865.9V1242.1H1862.9V1259.6H1857.9V1265.5H1855.4V1231.8H1852.9V1233.7H1850.9V1219.6H1847.9V1224.2H1845.4V1260.6H1842.4V1260.8H1837.4V1232.4H1834.9V1253.1H1831.9V1232.8H1829.4V1216.8H1826.9V1215.6H1823.9V1220.9H1820.9V1232.2H1815.9V1253.6H1810.9V1222.7H1805.9V1249.7H1802.4V1222.1H1799.9V1227.3H1796.9V1243.8H1793.4V1242.7H1789.9V1279.7H1786.4V1251.4H1783.9V1252.4H1781.9V1310.1H1776.9V1216.0H1774.4V1252.8H1771.9V1214.2H1768.4V1277.5H1764.4V1239.4H1762.4V1226.5H1758.4V1225.8H1755.4V1202.5H1750.4V1209.1H1747.9V1252.9H1745.9V1243.0H1743.9V1215.8H1740.9V1250.4H1737.9V1223.7H1735.9V1261.3H1732.4V1241.7H1728.9V1277.7H1725.9V1209.9H1723.4V1260.3H1720.9V1211.3H1717.9V1250.9H1715.4V1228.0H1711.4V1230.7H1706.4V1215.0H1703.9V1203.5H1701.4V1306.2H1698.4V1219.7H1695.4V1246.4H1692.4V1216.7H1689.9V1256.9H1686.9V1215.2H1682.9V1237.2H1680.4V1230.9H1677.4V1216.7H1674.9V1237.3H1672.9V1240.1H1669.9V1233.3H1664.9V1254.1H1662.4V1245.9H1660.4V1263.7H1657.4V1212.1H1654.9V1228.2H1652.4V1207.7H1647.4V1252.6H1643.4V1258.4H1638.4V1217.8H1634.9V1264.8H1632.4V1228.1H1629.4V1252.7H1625.4V1213.2H1622.9V1231.1H1620.4V1210.8H1617.9V1213.6H1614.4V1201.9H1610.9V1200.2H1608.4V1225.5H1606.4V1209.7H1602.9V1221.6H1599.4V1213.3H1595.4V1250.6H1591.9V1220.8H1586.9V1308.0H1583.4V1254.2H1580.4V1205.2H1576.9V1209.2H1574.4V1207.1H1571.9V1219.5H1569.4V1216.9H1566.4V1209.1H1562.9V1224.5H1560.9V1223.2H1558.4V1199.8H1555.9V1200.1H1550.9V1246.0H1545.9V1209.3H1542.4V1245.3H1539.9V1218.9H1534.9V1211.6H1531.4V1192.6H1526.4V1216.1H1523.4V1212.8H1520.4V1205.1H1517.9V1239.6H1515.4V1226.5H1510.4V1215.0H1506.9V1197.2H1504.4V1208.4H1502.4V1229.7H1499.4V1234.6H1497.4V1231.1H1494.4V1265.8H1490.4V1203.6H1487.9V1211.1H1484.4V1224.6H1479.4V1239.9H1474.4V1234.4H1472.4V1224.9H1470.4V1228.9H1467.4V1209.4H1465.4V1195.9H1463.4V1198.7H1459.9V1195.8H1454.9V1201.5H1451.9V1211.6H1448.9V1225.2H1445.9V1204.0H1441.9V1208.2H1438.9V1230.9H1436.4V1217.0H1433.9V1198.1H1430.9V1237.7H1427.9V1207.7H1424.9V1224.4H1419.9V1201.2H1414.9V1204.9H1412.4V1212.6H1409.9V1196.8H1407.4V1208.0H1405.4V1190.2H1400.4V1201.9H1396.4V1214.3H1393.9V1223.3H1390.4V1220.5H1388.4V1203.8H1383.4V1210.7H1380.9V1198.7H1376.9V1200.6H1371.9V1208.8H1367.9V1189.3H1363.9V1184.7H1360.9V1231.5H1357.9V1215.8H1353.9V1221.8H1351.4V1204.9H1348.4V1197.0H1345.9V1200.8H1342.9V1219.7H1339.4V1199.1H1335.4V1202.1H1331.4V1201.7H1327.9V1190.2H1322.9V1190.8H1319.9V1231.0H1314.9V1191.7H1309.9V1219.7H1307.9V1230.3H1305.4V1200.0H1303.4V1215.0H1299.4V1209.3H1296.4V1232.4H1292.9V1200.3H1288.9V1229.2H1285.9V1213.8H1280.9V1237.0H1278.9V1204.0H1273.9V1195.8H1270.9V1201.2H1267.9V1204.4H1264.9V1182.7H1262.4V1226.4H1259.4V1197.8H1256.4V1227.0H1253.4V1247.4H1250.4V1198.3H1248.4V1243.9H1244.4V1195.5H1241.9V1197.0H1239.4V1182.4H1234.4V1188.7H1231.4V1193.2H1228.4V1194.4H1225.4V1190.9H1220.4V1210.9H1217.4V1197.2H1214.4V1197.2H1209.4V1204.8H1207.4V1201.2H1204.9V1185.7H1201.4V1178.4H1198.9V1202.4H1196.4V1191.9H1193.4V1234.4H1190.9V1203.8H1186.9V1211.1H1184.4V1207.8H1181.4V1218.3H1177.4V1233.5H1173.4V1187.2H1171.4V1232.0H1169.4V1202.0H1166.9V1213.8H1164.4V1190.2H1160.9V1186.5H1158.4V1206.0H1156.4V1185.1H1154.4V1185.4H1152.4V1185.4H1149.4V1192.7H1146.9V1200.9H1141.9V1197.1H1138.9V1189.4H1136.9V1196.8H1134.9V1185.1H1132.9V1258.6H1127.9V1218.3H1125.9V1206.0H1123.4V1190.4H1118.4V1254.1H1115.4V1216.5H1113.4V1219.3H1110.9V1215.0H1105.9V1203.9H1103.4V1207.1H1098.4V1220.7H1094.9V1211.8H1091.4V1210.0H1088.9V1250.2H1085.9V1191.9H1082.9V1203.6H1077.9V1197.5H1072.9V1219.2H1069.9V1185.1H1066.9V1194.6H1064.9V1199.9H1062.9V1185.9H1057.9V1197.8H1055.4V1198.1H1051.4V1190.9H1048.9V1199.1H1045.9V1220.0H1043.4V1214.0H1040.4V1231.4H1035.4V1204.3H1032.9V1207.1H1027.9V1218.8H1024.4V1215.4H1020.9V1201.1H1017.9V1202.0H1014.4V1188.8H1011.4V1195.2H1006.4V1191.7H1001.4V1209.7H998.9V1215.3H996.4V1207.4H992.9V1203.3H990.4V1177.0H988.4V1180.4H985.9V1186.1H983.4V1202.6H980.4V1207.1H977.9V1181.5H973.9V1199.1H971.4V1211.2H967.4V1191.3H963.9V1204.5H959.9V1201.3H956.9V1190.4H953.4V1198.2H949.9V1191.3H946.9V1195.7H943.4V1201.2H939.9V1197.6H936.9V1188.2H934.4V1183.3H932.4V1174.4H929.9V1228.9H926.9V1177.2H923.9V1199.7H920.4V1178.3H917.9V1196.2H914.4V1198.6H909.4V1189.8H906.9V1188.7H904.4V1198.9H901.4V1202.2H898.4V1188.9H896.4V1205.4H892.4V1186.2H889.9V1201.1H886.4V1185.4H883.4V1183.3H878.4V1199.7H874.4V1190.9H869.4V1187.9H866.4V1191.3H862.4V1178.7H859.4V1184.3H855.4V1197.4H851.4V1184.5H849.4V1176.4H846.4V1184.8H841.4V1177.6H838.4V1193.8H834.9V1191.0H832.4V1196.3H829.9V1187.9H824.9V1176.9H822.4V1203.9H819.9V1183.3H817.4V1179.2H812.4V1204.3H808.9V1200.4H805.9V1199.0H802.9V1177.9H799.9V1176.3H796.4V1189.6H793.4V1186.8H790.9V1207.8H785.9V1196.3H783.4V1195.5H780.9V1198.5H778.4V1191.5H775.9V1189.7H772.4V1181.1H768.9V1179.6H766.4V1197.6H762.4V1188.8H759.4V1176.8H756.9V1180.8H751.9V1182.2H748.9V1205.6H744.9V1211.7H741.9V1206.6H739.4V1208.7H735.4V1187.1H732.4V1203.4H728.9V1180.9H725.9V1179.8H722.9V1191.7H719.4V1197.4H716.4V1180.7H712.4V1178.7H708.4V1181.9H704.4V1185.4H701.4V1191.6H698.9V1183.3H693.9V1204.1H689.9V1207.8H687.4V1193.8H682.4V1191.4H679.9V1200.6H676.9V1187.5H674.4V1196.0H671.4V1193.8H667.4V1213.5H663.4V1206.6H659.9V1190.3H656.9V1197.8H653.9V1193.5H650.4V1196.9H645.4V1186.8H643.4V1199.9H640.9V1203.9H638.4V1178.7H635.4V1203.1H632.4V1184.9H629.9V1211.9H626.9V1185.1H623.9V1179.2H620.4V1212.9H617.4V1186.2H613.4V1198.3H609.9V1192.1H607.4V1198.2H604.4V1203.7H600.4V1202.2H597.9V1201.7H595.9V1181.4H593.4V1193.3H589.4V1179.0H584.4V1180.1H579.4V1199.0H575.9V1191.4H573.9V1177.0H571.4V1189.6H567.4V1177.2H564.4V1177.2H561.9V1189.7H558.9V1202.7H554.9V1184.6H549.9V1177.0H546.9V1193.2H544.4V1178.9H540.9V1177.2H535.9V1198.6H533.4V1185.5H530.9V1212.2H528.4V1191.2H525.9V1195.7H521.9V1205.4H519.9V1187.3H517.4V1185.4H513.9V1177.2H510.9V1196.4H507.4V1177.2H502.4V1217.3H498.9V1188.5H495.4V1197.3H492.9V1179.6H488.9V1173.0H484.9V1181.6H482.4V1208.7H479.4V1187.5H476.9V1199.8H473.4V1182.2H470.4V1175.2H465.4V1195.4H462.9V1196.9H457.9V1182.1H454.4V1208.9H452.4V1195.9H449.4V1197.9H446.4V1183.8H443.4V1182.8H440.4V1178.5H438.4V1202.2H433.4V1203.4H430.9V1196.4H427.4V1195.8H422.4V1172.7H420.4V1186.3H418.4V1172.0H414.9V1185.9H411.9V1190.1H407.9V1170.2H405.9V1184.2H403.9V1184.1H399.9V1193.8H396.9V1189.5H392.9V1206.9H390.4V1175.4H386.9V1176.6H384.4V1178.4H380.9V1194.5H378.4V1194.9H375.4V1204.5H372.9V1187.6H369.4V1193.9H366.9V1202.0H364.4V1174.5H361.9V1192.9H359.4V1181.8H357.4V1179.0H353.9V1196.6H348.9V1197.8H346.9V1187.4H344.4V1194.9H339.4V1207.9H334.4V1197.9H332.4V1185.5H329.9V1195.1H326.9V1189.9H323.9V1172.3H321.9V1182.2H319.4V1182.2H316.4V1174.0H312.9V1170.8H310.4V1180.5H306.9V1203.5H304.4V1203.6H302.4V1184.1H299.4V1190.7H295.4V1195.2H291.9V1176.1H289.4V1175.8H285.4V1195.8H282.4V1192.1H277.4V1181.2H274.4V1183.4H271.9V1158.0H266.9V1173.1H264.4V1162.6H262.4Z" fill="#8000ff" stroke="#8000ff" stroke-width="0.6" stroke-linejoin="round"/>
<path d="M1016.3 1040.9V1279.5M1050.4 1013.5V1263.1M1065.7 1043.7V1252.1M1141.9 1046.4V1224.7M1216.0 1043.7V1224.7M972.0 1065.6V1224.7M1457.9 1051.9V1257.6M1571.2 1038.2V1252.1M1643.1 1021.7V1257.6M1757.5 977.9V1265.8M1773.8 1005.3V1252.1M1908.9 1005.3V1279.5M1948.2 991.6V1312.4M2056.2 936.7V1352.2M2041.9 972.4V1307.0M2100.7 991.6V1279.5M2142.1 983.3V1279.5M2187.9 1005.3V1301.5M2211.8 944.9V1293.2M2255.4 966.9V1279.5M2242.3 1019.0V1320.7M2296.8 988.8V1279.5M2007.0 1019.0V1312.4M1832.7 1027.2V1285.0M1701.9 1060.1V1274.0M1505.8 1060.1V1257.6M1309.7 1065.6V1246.6M558.0 1087.6V1230.2M431.6 1093.0V1227.4M357.5 1095.8V1219.2" stroke="#8000ff" stroke-width="2.6" stroke-linecap="round" fill="none"/>
<path d="M238.8 2195.9V2195.9H240.8V2197.4H241.8V2198.2H242.8V2197.1H244.8V2196.1H246.3V2124.0H247.8V2121.8H249.3V2123.1H251.8V2084.7H254.3V2086.0H256.8V2091.9H258.8V2094.7H259.8V2089.3H261.3V2084.8H262.8V2084.5H265.8V2041.1H268.8V2040.3H270.8V2042.3H271.8V2042.2H273.8V2037.1H276.8V2040.6H279.8V2034.0H282.8V2036.0H284.8V2043.1H286.8V2058.0H287.8V2038.4H289.8V2032.6H291.8V2055.9H294.3V2074.7H296.3V2072.8H298.3V2023.6H300.3V2024.4H301.3V2029.7H303.3V2037.7H304.3V2049.1H306.3V2068.3H307.3V2063.5H308.3V2057.9H309.3V2050.4H310.8V2048.8H312.3V2062.2H313.8V2032.3H316.3V2022.7H318.8V2026.2H321.3V2017.4H323.3V2016.2H324.3V2020.8H325.8V2043.8H327.3V2068.5H329.8V2066.0H331.8V2041.3H334.8V2055.2H336.3V2020.2H338.3V2018.1H339.3V2081.4H341.3V2073.2H344.3V2068.5H345.3V2062.3H347.8V2059.7H348.8V2057.1H350.8V2050.3H353.8V2049.5H355.3V2049.4H357.3V2051.7H359.3V2032.3H361.8V2025.2H362.8V2006.1H364.8V2002.8H367.3V2037.2H370.3V2059.8H372.8V2070.6H373.8V2060.7H375.8V2026.4H378.8V2015.8H381.8V2032.2H383.8V2053.0H385.3V2055.7H387.8V2048.7H389.8V2053.7H391.8V2062.6H393.8V2070.3H395.8V2062.5H397.3V2047.9H398.3V2028.1H399.8V2007.8H401.8V2006.6H402.8V2014.2H405.3V2044.2H408.3V2062.3H410.3V2060.0H412.8V2055.4H414.8V2039.1H417.3V2037.4H419.3V2084.4H421.3V2080.8H424.3V2054.6H426.8V2051.0H428.8V2050.1H430.8V2041.4H431.8V2029.2H433.3V2026.5H434.8V2044.9H437.3V2023.9H439.8V2022.7H441.8V2028.9H443.8V2040.0H445.8V2059.4H447.8V2059.0H450.3V2055.9H452.3V2062.4H453.3V2058.6H455.8V2049.7H458.3V2072.0H460.3V2063.0H463.3V2067.4H466.3V2064.3H468.3V2055.0H471.3V2055.7H473.3V2055.2H476.3V2074.1H477.8V2086.7H478.8V2069.8H480.8V2065.6H483.3V2077.5H485.8V2089.4H486.8V2092.6H488.3V2069.5H491.3V2060.2H493.8V2054.2H495.3V2050.6H497.3V2062.3H499.3V2073.1H501.8V2063.1H503.8V2057.6H506.8V2061.7H507.8V2064.7H510.3V2073.5H513.3V2080.3H515.3V2061.3H518.3V2062.4H519.3V2068.3H522.3V2080.3H523.8V2083.9H525.8V2061.0H528.3V2057.1H530.3V2057.3H532.3V2064.8H533.3V2055.4H536.3V2049.8H538.3V2081.8H540.3V2077.0H541.3V2079.3H543.3V2057.5H545.8V2034.0H548.3V2047.8H550.3V2067.8H552.3V2079.6H555.3V2064.5H556.8V2066.1H558.3V2077.0H560.3V2092.3H562.8V2073.6H564.3V2071.5H565.3V2072.8H566.3V2074.0H568.3V2077.3H569.3V2078.6H571.3V2088.1H572.8V2087.5H575.3V2077.8H577.3V2067.3H579.3V2060.4H580.8V2055.6H581.8V2048.6H583.8V2055.6H584.8V2061.1H587.3V2056.3H589.3V2063.7H590.3V2074.9H591.3V2083.3H593.3V2102.5H594.8V2100.6H595.8V2096.4H596.8V2086.7H599.8V2081.5H601.8V2082.4H604.8V2095.6H607.3V2097.0H609.3V2088.7H611.3V2081.9H613.3V2077.3H614.3V2067.7H616.3V2062.4H617.3V2064.1H619.3V2058.1H622.3V2060.0H625.3V2091.5H626.3V2071.0H629.3V2059.8H630.8V2055.7H633.8V2063.9H635.8V2072.8H637.8V2080.1H639.8V2064.6H642.3V2079.5H645.3V2098.0H647.8V2099.9H648.8V2103.6H651.8V2110.3H653.8V2100.2H654.8V2092.7H655.8V2084.6H657.8V2082.3H659.8V2088.2H662.3V2093.1H664.8V2104.3H666.8V2097.6H669.8V2093.2H671.8V2098.3H673.8V2107.0H675.3V2106.4H677.3V2096.2H680.3V2091.6H683.3V2087.3H686.3V2102.5H688.3V2096.3H690.3V2099.1H691.3V2102.7H693.8V2105.3H696.8V2096.0H699.8V2097.0H700.8V2103.3H703.8V2110.1H705.8V2105.0H707.8V2108.0H710.8V2108.7H712.8V2096.6H714.3V2081.8H717.3V2088.9H720.3V2095.5H722.8V2091.3H724.3V2090.4H726.8V2100.4H728.8V2086.9H731.3V2086.8H733.8V2100.3H735.8V2098.4H737.8V2084.2H740.3V2085.7H741.8V2097.6H743.8V2113.9H746.8V2110.4H749.3V2095.6H751.8V2096.1H752.8V2097.5H755.8V2100.8H758.8V2097.5H760.8V2112.3H763.3V2114.2H764.3V2107.8H766.3V2107.8H768.3V2115.0H770.8V2118.4H771.8V2111.3H772.8V2101.0H775.8V2095.3H778.3V2098.1H780.3V2104.9H782.3V2097.4H783.8V2092.1H784.8V2091.7H787.3V2105.5H789.3V2111.2H791.3V2118.8H792.3V2119.0H794.3V2103.3H797.3V2100.1H799.8V2099.3H801.3V2098.0H802.3V2100.9H804.8V2091.6H806.8V2091.4H808.8V2075.1H811.8V2068.4H813.8V2067.0H815.8V2105.2H818.3V2103.5H820.3V2110.5H822.3V2118.7H823.8V2113.0H824.8V2102.8H826.8V2107.0H828.8V2110.1H831.3V2110.9H833.3V2098.5H836.3V2100.5H838.3V2111.9H840.3V2102.9H843.3V2092.8H846.3V2092.3H848.8V2098.8H849.8V2104.1H851.8V2114.5H853.8V2114.5H855.3V2112.0H856.3V2109.9H858.3V2109.3H859.3V2104.7H862.3V2094.4H865.3V2079.7H867.3V2081.7H868.3V2097.8H871.3V2106.9H873.3V2096.3H876.3V2086.2H878.3V2078.3H880.3V2084.3H883.3V2076.1H885.3V2081.1H888.3V2097.1H891.3V2098.0H892.8V2091.3H894.8V2091.8H896.8V2092.9H897.8V2092.3H900.3V2077.0H902.3V2082.0H904.3V2091.6H906.8V2090.4H909.8V2089.1H912.3V2106.3H914.8V2099.5H916.8V2098.7H919.3V2105.6H920.3V2101.9H922.8V2083.7H925.3V2074.8H926.3V2075.3H928.3V2080.8H930.8V2080.2H932.8V2086.3H934.8V2103.6H936.8V2105.7H938.8V2097.3H940.8V2081.5H943.8V2078.9H944.8V2075.8H945.8V2079.0H948.3V2100.3H951.3V2105.5H953.3V2080.2H954.8V2081.6H957.8V2075.4H960.8V2071.6H962.8V2087.5H963.8V2095.1H965.3V2099.2H967.3V2085.9H969.8V2060.4H971.8V2055.8H973.8V2057.2H975.8V2074.3H977.8V2061.6H980.8V2064.1H981.8V2068.8H983.3V2073.6H986.3V2084.2H988.3V2063.3H991.3V2045.6H993.3V2046.8H994.3V2078.7H996.3V2078.0H997.3V2072.2H998.3V2061.6H1000.8V2059.1H1002.8V2064.5H1003.8V2062.2H1005.8V2055.3H1008.3V2059.0H1009.8V2068.3H1010.8V2074.1H1013.8V2085.9H1015.8V2075.5H1017.3V2065.3H1018.8V2058.2H1020.3V2082.3H1022.8V2110.4H1024.8V2082.5H1026.3V2063.4H1027.8V2063.4H1029.3V2051.2H1031.8V2037.4H1034.3V2036.3H1036.3V2036.7H1037.3V2035.8H1039.3V2038.6H1042.3V2050.7H1043.8V2058.7H1046.3V2064.5H1048.8V2079.7H1051.3V2040.0H1053.3V2034.3H1056.3V2043.4H1058.8V2050.8H1060.8V2055.2H1063.3V2048.0H1065.8V2044.2H1068.3V2065.6H1071.3V2053.9H1072.8V2058.4H1074.8V2069.2H1075.8V2073.7H1078.3V2078.6H1080.3V2060.0H1082.8V2055.8H1083.8V2051.9H1084.8V2045.6H1086.8V2059.1H1088.8V2070.8H1090.3V2067.3H1091.8V2070.8H1094.8V2077.1H1097.8V2058.4H1099.8V2065.5H1101.3V2078.7H1104.3V2067.6H1106.3V2059.4H1108.3V2071.1H1111.3V2064.7H1114.3V2069.1H1116.3V2082.6H1119.3V2067.7H1120.3V2045.4H1122.3V2040.0H1123.8V2037.5H1124.8V2044.6H1127.3V2082.2H1128.3V2086.0H1130.8V2089.8H1132.8V2070.4H1134.3V2069.3H1136.3V2079.1H1137.3V2078.5H1139.3V2037.0H1141.3V2033.4H1142.3V2027.6H1143.8V2023.6H1145.8V2054.0H1147.8V2072.6H1150.3V2062.5H1153.3V2041.9H1156.3V2030.8H1159.3V2051.0H1161.3V2073.4H1162.8V2067.0H1164.3V2055.6H1167.3V2064.4H1169.3V2055.6H1172.3V2054.3H1174.8V2038.3H1177.8V2046.2H1180.3V2068.2H1182.3V2082.9H1183.3V2075.1H1185.3V2057.0H1187.3V2055.4H1188.3V2060.6H1190.3V2066.3H1191.3V2069.8H1193.3V2087.6H1194.3V2082.1H1195.3V2068.3H1197.3V2064.4H1199.3V2064.6H1201.3V2065.6H1203.3V2075.8H1205.8V2084.0H1206.8V2083.1H1209.8V2068.3H1211.3V2058.8H1213.3V2059.7H1214.3V2062.6H1215.8V2067.5H1217.3V2062.7H1218.3V2058.0H1219.3V2051.4H1221.8V2057.5H1223.8V2063.7H1226.8V2054.9H1228.8V2052.5H1229.8V2048.5H1232.3V2058.0H1233.8V2070.9H1235.3V2074.0H1236.3V2065.7H1238.3V2065.7H1241.3V2077.8H1242.8V2048.6H1245.8V2037.6H1246.8V2034.9H1249.3V2053.7H1251.3V2070.9H1252.3V2075.6H1253.8V2057.0H1256.3V2054.1H1257.3V2056.0H1258.8V2064.4H1261.3V2079.7H1262.8V2042.8H1264.8V2013.6H1267.8V2032.7H1270.8V2041.6H1271.8V2070.9H1272.8V2087.1H1274.8V2094.7H1275.8V2070.8H1278.8V2070.6H1280.8V2088.9H1281.8V2084.4H1283.3V2073.0H1285.3V2073.9H1286.3V2072.8H1289.3V2089.0H1290.3V2062.0H1292.8V2064.3H1294.8V2064.5H1296.8V2069.7H1299.3V2091.3H1301.3V2089.3H1303.3V2067.0H1304.8V2051.3H1307.8V2059.0H1309.3V2079.6H1310.8V2085.6H1312.3V2067.3H1314.3V2062.7H1316.3V2072.0H1319.3V2081.8H1321.8V2085.4H1322.8V2078.6H1325.3V2070.2H1327.3V2061.2H1328.8V2059.5H1329.8V2056.0H1331.8V2093.4H1333.8V2089.9H1335.3V2068.4H1337.8V2066.7H1338.8V2074.6H1340.8V2062.8H1342.3V2048.9H1343.3V2041.7H1345.3V2043.1H1348.3V2050.3H1350.3V2056.2H1351.3V2061.8H1352.3V2065.0H1354.3V2075.7H1357.3V2086.4H1358.3V2074.0H1360.8V2070.7H1361.8V2067.1H1363.8V2075.9H1365.8V2091.1H1367.3V2083.9H1369.8V2058.3H1372.8V2058.0H1374.3V2059.3H1376.3V2066.8H1377.8V2075.8H1379.8V2089.7H1382.8V2077.7H1384.8V2048.7H1386.8V2039.9H1387.8V2041.1H1389.8V2062.1H1392.8V2091.1H1394.8V2085.5H1395.8V2074.4H1398.3V2076.0H1400.8V2085.0H1401.8V2078.3H1404.3V2074.5H1406.3V2070.1H1407.3V2068.5H1408.8V2070.6H1410.3V2075.4H1412.3V2084.4H1415.3V2096.9H1416.3V2088.6H1418.3V2085.8H1420.8V2079.2H1423.3V2069.0H1424.3V2060.0H1425.8V2058.8H1427.8V2060.8H1430.3V2069.9H1431.3V2076.1H1432.3V2070.6H1434.3V2060.6H1435.3V2057.1H1437.3V2073.3H1440.3V2067.2H1443.3V2053.1H1445.8V2056.6H1447.8V2062.4H1449.3V2076.8H1451.8V2060.9H1453.8V2055.5H1455.3V2058.0H1457.3V2064.0H1458.8V2073.0H1460.3V2081.8H1461.3V2065.0H1463.3V2052.6H1465.3V2042.4H1467.3V2045.0H1470.3V2060.1H1471.8V2075.4H1474.3V2067.5H1475.3V2056.1H1477.3V2066.2H1478.8V2079.8H1479.8V2071.8H1481.3V2059.0H1482.8V2055.8H1483.8V2051.0H1484.8V2051.0H1487.8V2052.1H1488.8V2061.7H1490.3V2075.7H1491.3V2084.1H1494.3V2063.3H1496.8V2046.6H1498.3V2042.6H1500.3V2039.8H1503.3V2050.5H1506.3V2085.9H1507.3V2069.4H1510.3V2061.4H1513.3V2062.3H1514.8V2060.0H1516.8V2062.5H1519.3V2053.4H1520.3V2047.1H1523.3V2044.3H1526.3V2058.2H1529.3V2066.0H1530.3V2055.6H1532.8V2053.9H1534.8V2061.8H1536.8V2067.8H1538.8V2068.4H1540.8V2078.8H1542.8V2078.7H1545.3V2069.6H1547.3V2063.7H1549.8V2061.9H1551.8V2067.5H1554.8V2060.2H1556.8V2056.7H1558.3V2060.8H1560.3V2062.6H1563.3V2061.5H1565.3V2060.8H1566.8V2059.8H1568.8V2068.7H1570.8V2097.7H1572.3V2095.7H1574.3V2096.4H1577.3V2101.5H1578.3V2088.8H1581.3V2071.0H1583.8V2065.6H1586.8V2048.4H1587.8V2024.0H1590.3V2014.5H1593.3V2008.0H1596.3V2091.0H1598.3V2073.9H1600.8V2049.5H1603.8V2057.8H1606.8V2065.2H1609.3V2084.1H1611.3V2084.0H1613.3V2080.9H1614.8V2080.5H1617.8V2080.0H1619.3V2072.0H1621.3V2067.3H1623.3V2069.2H1625.3V2073.5H1627.3V2060.8H1629.3V2052.0H1631.8V2053.6H1634.3V2059.8H1637.3V2073.9H1639.8V2081.6H1640.8V2082.2H1642.8V2080.5H1644.8V2081.0H1646.3V2082.7H1647.3V2093.1H1650.3V2087.6H1653.3V2081.5H1655.3V2078.4H1656.8V2080.9H1658.3V2083.1H1660.3V2079.1H1661.3V2071.4H1662.3V2071.9H1664.8V2084.8H1666.8V2067.5H1668.8V2065.6H1670.8V2080.4H1672.8V2073.1H1674.3V2067.6H1676.3V2065.7H1678.3V2067.7H1679.8V2072.9H1681.8V2076.3H1683.3V2072.7H1685.3V2073.1H1687.3V2060.0H1689.3V2055.9H1691.3V2056.8H1693.3V2065.8H1695.3V2075.1H1696.8V2069.0H1698.8V2066.2H1700.8V2062.7H1702.8V2067.0H1704.8V2066.4H1706.3V2075.2H1707.3V2040.4H1708.8V2042.2H1711.8V2055.4H1714.3V2056.9H1715.3V2070.9H1718.3V2098.3H1720.3V2075.5H1723.3V2071.6H1724.3V2072.1H1726.3V2076.5H1728.3V2088.4H1729.3V2086.2H1731.3V2078.5H1732.3V2071.4H1733.3V2067.1H1736.3V2086.6H1737.8V2078.7H1739.3V2071.9H1741.3V2070.2H1742.3V2066.2H1744.3V2063.4H1746.3V2062.0H1747.3V2064.6H1748.8V2071.1H1750.3V2072.8H1751.8V2073.6H1753.3V2071.8H1755.3V2078.1H1756.8V2076.8H1758.3V2060.1H1760.8V2049.7H1762.8V2043.0H1765.8V2058.7H1768.8V2044.3H1771.3V2028.9H1772.3V2022.4H1773.8V2053.0H1775.3V2073.4H1777.8V2069.7H1778.8V2068.5H1779.8V2070.5H1781.3V2073.6H1783.3V2077.4H1784.3V2079.8H1786.3V2081.7H1788.3V2073.2H1790.3V2063.0H1792.8V2063.1H1795.8V2091.5H1797.3V2088.3H1799.3V2089.1H1801.3V2093.4H1802.8V2084.8H1805.3V2081.9H1807.8V2085.4H1809.8V2085.1H1811.3V2076.0H1812.3V2067.9H1813.8V2072.7H1816.8V2090.0H1818.8V2098.1H1819.8V2103.3H1820.8V2105.8H1822.3V2107.2H1824.3V2105.8H1825.3V2091.5H1826.8V2077.6H1829.3V2071.0H1831.8V2048.9H1833.8V2051.0H1836.3V2058.4H1838.3V2044.7H1840.3V2027.9H1842.3V2028.0H1843.8V2030.0H1844.8V2039.1H1846.8V2075.7H1848.3V2061.5H1849.3V2057.6H1851.3V2065.4H1853.8V2086.4H1856.3V2097.2H1858.3V2095.9H1859.3V2089.6H1860.3V2083.7H1861.3V2078.1H1862.3V2071.2H1863.8V2062.2H1866.8V2072.4H1867.8V2076.8H1870.8V2048.5H1873.8V2057.7H1875.8V2070.3H1878.3V2074.6H1879.8V2074.8H1880.8V2077.2H1882.8V2083.5H1883.8V2083.7H1886.8V2066.4H1888.8V2063.6H1890.8V2064.3H1891.8V2061.4H1893.8V2063.5H1894.8V2068.9H1897.8V2083.2H1900.8V2097.2H1902.3V2093.5H1904.3V2073.1H1906.3V2043.0H1908.3V2052.0H1910.3V2068.0H1912.8V2077.8H1914.8V2078.5H1916.8V2088.3H1919.3V2077.5H1921.3V2080.6H1923.3V2083.3H1925.8V2100.2H1927.8V2094.1H1929.8V2085.1H1931.3V2073.2H1933.3V2075.8H1934.3V2082.0H1936.3V2077.4H1937.8V2065.2H1940.8V2066.1H1943.8V2073.0H1944.8V2077.3H1945.8V2081.7H1948.8V2094.7H1950.8V2102.2H1953.3V2105.8H1955.3V2096.8H1956.8V2087.3H1958.8V2084.0H1960.3V2081.0H1961.3V2078.1H1964.3V2080.6H1965.3V2077.2H1966.3V2070.5H1967.3V2062.1H1968.3V2058.2H1969.3V2061.3H1971.8V2073.3H1973.8V2090.9H1976.3V2091.0H1979.3V2101.2H1981.8V2104.2H1982.8V2086.6H1984.8V2067.0H1986.8V2067.6H1988.8V2080.7H1989.8V2086.1H1992.8V2084.4H1994.8V2082.3H1996.8V2091.8H1997.8V2071.5H1999.8V2044.0H2001.8V2029.0H2003.8V2038.0H2005.8V2068.4H2008.3V2034.4H2011.3V2018.6H2014.3V2037.4H2016.3V2055.2H2017.8V2066.4H2019.8V2085.8H2021.8V2097.2H2023.8V2095.4H2025.3V2079.8H2027.3V2065.7H2029.3V2053.4H2031.8V2060.0H2033.8V2074.4H2036.3V2072.6H2038.3V2070.3H2040.3V2076.1H2042.3V2078.4H2045.3V2075.9H2047.3V2070.6H2049.3V2071.0H2051.3V2072.1H2052.3V2075.0H2055.3V2060.3H2057.3V2053.6H2058.3V2063.8H2060.8V2082.4H2063.8V2086.4H2065.8V2089.8H2068.3V2078.6H2069.8V2078.2H2072.3V2082.7H2073.3V2086.7H2074.3V2090.4H2075.8V2076.0H2077.8V2045.5H2080.3V2046.5H2082.3V2046.5H2084.3V2033.7H2086.3V2036.9H2087.8V2051.6H2090.3V2084.8H2091.3V2095.4H2092.8V2091.3H2094.8V2091.1H2095.8V2091.1H2098.3V2088.0H2100.3V2074.7H2102.8V2069.1H2104.8V2073.0H2107.8V2062.6H2110.3V2066.2H2112.8V2065.7H2115.8V2063.5H2116.8V2069.6H2118.8V2085.9H2119.8V2083.1H2122.3V2077.1H2123.3V2071.2H2125.3V2076.8H2126.8V2080.9H2128.8V2090.4H2131.3V2076.2H2133.8V2063.5H2135.8V2056.8H2137.8V2069.5H2138.8V2081.3H2140.8V2076.3H2141.8V2074.0H2143.3V2073.1H2145.3V2079.0H2146.3V2068.7H2147.8V2063.9H2149.8V2073.2H2150.8V2052.4H2153.8V2064.3H2155.3V2037.7H2158.3V2038.9H2160.3V2049.7H2161.3V2041.9H2162.8V2023.6H2165.8V2030.3H2167.8V2039.4H2170.3V2031.7H2173.3V2047.3H2175.3V2020.9H2178.3V2019.7H2179.3V2028.6H2181.3V2043.2H2183.3V2033.1H2185.3V2036.2H2188.3V2021.9H2190.3V2003.8H2193.3V1994.1H2195.3V1972.2H2196.8V1995.3H2198.8V2020.6H2200.8V2019.6H2202.8V2033.6H2205.8V2026.2H2208.3V2036.0H2210.8V2001.2H2213.8V1980.1H2216.8V2014.1H2218.8V2073.8H2221.8V2029.0H2223.8V1946.6H2225.8V1944.3H2226.8V1943.1H2228.8V1941.6H2230.3V1975.0H2232.8V2020.0H2233.8V2025.7H2235.3V1968.2H2237.8V1974.3H2239.8V1984.7H2242.3V1985.2H2245.3V1980.5H2246.8V1987.1H2249.3V1980.5H2251.8V1986.3H2253.3V1996.9H2256.3V1862.4H2257.3V1862.1H2258.3V1862.8H2259.3V1865.0H2261.3V1899.2H2262.3V1916.5H2263.8V1949.7H2265.8V1957.0H2268.8V1976.3H2270.3V1979.0H2272.3V1968.8H2274.3V1974.1H2275.8V1975.9H2277.8V1971.9H2278.8V1971.3H2280.3V1928.5H2282.3V1922.2H2285.3V1925.8H2288.3V1956.8H2289.8V2039.3H2291.3V2056.1H2292.8V2058.7H2295.3V1885.3H2297.8V1897.9H2299.8V1902.9H2301.8V1892.5H2303.3V1897.3H2304.8V1895.0H2306.8V1840.6H2308.8V1814.9H2311.8V1835.4H2312.8V1861.8H2313.8V1864.6H2315.3V1846.0H2317.3V1875.7H2319.3V1875.0H2322.3V1842.9H2324.1V1876.4V1876.4H2322.3V1934.4H2319.3V1926.6H2317.3V1880.2H2315.3V1892.0H2313.8V1889.2H2312.8V1862.5H2311.8V1845.5H2308.8V1896.0H2306.8V1929.0H2304.8V1924.8H2303.3V1906.6H2301.8V1925.9H2299.8V1925.1H2297.8V2067.9H2295.3V2067.3H2292.8V2060.9H2291.3V2058.7H2289.8V2043.6H2288.3V1958.6H2285.3V1929.5H2282.3V1988.4H2280.3V1983.6H2278.8V1976.8H2277.8V1983.6H2275.8V1983.0H2274.3V1983.0H2272.3V2011.9H2270.3V2007.4H2268.8V1977.2H2265.8V1976.5H2263.8V1951.9H2262.3V1921.1H2261.3V1899.7H2259.3V1868.3H2258.3V1866.7H2257.3V2001.3H2256.3V2000.8H2253.3V1999.8H2251.8V2000.7H2249.3V2008.9H2246.8V1989.6H2245.3V2000.9H2242.3V1998.5H2239.8V1988.7H2237.8V2027.7H2235.3V2044.2H2233.8V2034.8H2232.8V2022.0H2230.3V1979.5H2228.8V1946.9H2226.8V1950.3H2225.8V2031.3H2223.8V2075.5H2221.8V2086.2H2218.8V2079.3H2216.8V2016.1H2213.8V2038.1H2210.8V2053.6H2208.3V2037.5H2205.8V2046.5H2202.8V2038.1H2200.8V2024.0H2198.8V2025.7H2196.8V1996.4H2195.3V2036.2H2193.3V2026.6H2190.3V2050.5H2188.3V2054.4H2185.3V2045.6H2183.3V2058.8H2181.3V2055.4H2179.3V2030.5H2178.3V2052.5H2175.3V2075.7H2173.3V2077.6H2170.3V2060.7H2167.8V2049.3H2165.8V2044.2H2162.8V2055.8H2161.3V2057.8H2160.3V2052.7H2158.3V2071.0H2155.3V2071.9H2153.8V2079.5H2150.8V2078.6H2149.8V2076.3H2147.8V2086.8H2146.3V2084.8H2145.3V2081.0H2143.3V2078.7H2141.8V2083.1H2140.8V2089.7H2138.8V2091.8H2137.8V2072.7H2135.8V2079.6H2133.8V2091.0H2131.3V2100.4H2128.8V2093.5H2126.8V2083.7H2125.3V2079.2H2123.3V2086.5H2122.3V2098.8H2119.8V2097.8H2118.8V2088.3H2116.8V2071.4H2115.8V2082.3H2112.8V2081.5H2110.3V2075.0H2107.8V2081.4H2104.8V2077.6H2102.8V2090.2H2100.3V2094.7H2098.3V2096.1H2095.8V2095.9H2094.8V2097.2H2092.8V2102.0H2091.3V2103.4H2090.3V2089.0H2087.8V2055.0H2086.3V2049.3H2084.3V2064.3H2082.3V2061.0H2080.3V2077.4H2077.8V2105.8H2075.8V2105.2H2074.3V2093.9H2073.3V2089.0H2072.3V2085.0H2069.8V2090.7H2068.3V2105.3H2065.8V2102.5H2063.8V2100.5H2060.8V2110.9H2058.3V2066.2H2057.3V2084.6H2055.3V2086.8H2052.3V2075.6H2051.3V2074.0H2049.3V2080.2H2047.3V2091.0H2045.3V2090.3H2042.3V2081.3H2040.3V2079.8H2038.3V2082.0H2036.3V2086.9H2033.8V2078.8H2031.8V2070.5H2029.3V2082.7H2027.3V2097.7H2025.3V2099.2H2023.8V2100.9H2021.8V2102.0H2019.8V2089.6H2017.8V2068.7H2016.3V2057.2H2014.3V2040.8H2011.3V2072.8H2008.3V2086.7H2005.8V2080.8H2003.8V2048.6H2001.8V2076.8H1999.8V2106.5H1997.8V2100.4H1996.8V2095.2H1994.8V2102.9H1992.8V2108.3H1989.8V2087.2H1988.8V2083.1H1986.8V2089.9H1984.8V2105.9H1982.8V2107.9H1981.8V2111.3H1979.3V2104.5H1976.3V2106.6H1973.8V2110.9H1971.8V2077.3H1969.3V2063.5H1968.3V2072.9H1967.3V2081.4H1966.3V2083.5H1965.3V2082.3H1964.3V2084.7H1961.3V2087.1H1960.3V2089.7H1958.8V2100.1H1956.8V2108.4H1955.3V2108.4H1953.3V2108.6H1950.8V2106.5H1948.8V2098.4H1945.8V2083.3H1944.8V2078.6H1943.8V2074.4H1940.8V2078.4H1937.8V2088.1H1936.3V2092.5H1934.3V2083.8H1933.3V2086.7H1931.3V2097.5H1929.8V2102.8H1927.8V2106.1H1925.8V2103.9H1923.3V2087.6H1921.3V2104.6H1919.3V2103.1H1916.8V2090.2H1914.8V2096.2H1912.8V2100.8H1910.3V2069.8H1908.3V2075.0H1906.3V2095.3H1904.3V2106.4H1902.3V2106.6H1900.8V2099.0H1897.8V2084.6H1894.8V2071.6H1893.8V2066.6H1891.8V2067.8H1890.8V2069.2H1888.8V2088.4H1886.8V2100.9H1883.8V2093.5H1882.8V2089.5H1880.8V2081.8H1879.8V2079.1H1878.3V2075.4H1875.8V2072.7H1873.8V2083.4H1870.8V2094.6H1867.8V2090.3H1866.8V2074.5H1863.8V2079.1H1862.3V2085.1H1861.3V2092.9H1860.3V2099.7H1859.3V2102.5H1858.3V2103.2H1856.3V2100.9H1853.8V2087.6H1851.3V2068.0H1849.3V2078.6H1848.3V2091.9H1846.8V2078.8H1844.8V2041.5H1843.8V2032.0H1842.3V2048.5H1840.3V2061.9H1838.3V2073.3H1836.3V2071.9H1833.8V2074.6H1831.8V2082.2H1829.3V2093.8H1826.8V2107.0H1825.3V2109.9H1824.3V2109.7H1822.3V2110.0H1820.8V2108.2H1819.8V2108.3H1818.8V2100.9H1816.8V2092.5H1813.8V2077.1H1812.3V2089.5H1811.3V2100.2H1809.8V2098.0H1807.8V2090.1H1805.3V2098.0H1802.8V2099.3H1801.3V2096.5H1799.3V2094.0H1797.3V2097.0H1795.8V2097.5H1792.8V2075.7H1790.3V2086.2H1788.3V2086.2H1786.3V2085.8H1784.3V2083.1H1783.3V2080.9H1781.3V2075.0H1779.8V2072.9H1778.8V2077.6H1777.8V2090.6H1775.3V2094.6H1773.8V2055.0H1772.3V2046.3H1771.3V2082.5H1768.8V2086.7H1765.8V2060.5H1762.8V2063.1H1760.8V2081.6H1758.3V2090.2H1756.8V2085.4H1755.3V2080.6H1753.3V2078.8H1751.8V2079.9H1750.3V2080.8H1748.8V2076.2H1747.3V2066.7H1746.3V2069.8H1744.3V2072.8H1742.3V2075.1H1741.3V2082.2H1739.3V2090.0H1737.8V2093.4H1736.3V2089.9H1733.3V2081.8H1732.3V2088.0H1731.3V2100.3H1729.3V2097.7H1728.3V2092.2H1726.3V2078.6H1724.3V2079.0H1723.3V2106.1H1720.3V2107.7H1718.3V2099.9H1715.3V2074.5H1714.3V2062.2H1711.8V2062.9H1708.8V2085.3H1707.3V2085.7H1706.3V2078.3H1704.8V2068.4H1702.8V2069.9H1700.8V2070.3H1698.8V2082.9H1696.8V2087.8H1695.3V2089.7H1693.3V2068.6H1691.3V2064.1H1689.3V2085.2H1687.3V2083.6H1685.3V2078.8H1683.3V2080.2H1681.8V2079.7H1679.8V2073.8H1678.3V2070.5H1676.3V2079.9H1674.3V2086.3H1672.8V2094.3H1670.8V2096.4H1668.8V2087.4H1666.8V2095.5H1664.8V2089.4H1662.3V2082.4H1661.3V2089.0H1660.3V2089.0H1658.3V2085.7H1656.8V2083.7H1655.3V2090.2H1653.3V2100.1H1650.3V2104.7H1647.3V2095.3H1646.3V2086.5H1644.8V2085.3H1642.8V2086.5H1640.8V2085.6H1639.8V2083.0H1637.3V2076.8H1634.3V2061.1H1631.8V2064.4H1629.3V2077.3H1627.3V2081.1H1625.3V2075.7H1623.3V2074.2H1621.3V2083.5H1619.3V2086.7H1617.8V2086.0H1614.8V2086.6H1613.3V2095.1H1611.3V2103.5H1609.3V2085.0H1606.8V2066.3H1603.8V2075.1H1600.8V2095.0H1598.3V2094.5H1596.3V2093.4H1593.3V2025.1H1590.3V2051.2H1587.8V2067.5H1586.8V2074.1H1583.8V2092.9H1581.3V2102.3H1578.3V2104.0H1577.3V2104.8H1574.3V2099.2H1572.3V2101.8H1570.8V2104.0H1568.8V2069.9H1566.8V2064.1H1565.3V2064.4H1563.3V2084.0H1560.3V2080.9H1558.3V2062.9H1556.8V2072.1H1554.8V2078.3H1551.8V2070.2H1549.8V2072.5H1547.3V2082.9H1545.3V2102.8H1542.8V2098.8H1540.8V2080.3H1538.8V2073.5H1536.8V2069.2H1534.8V2064.5H1532.8V2069.4H1530.3V2075.2H1529.3V2073.9H1526.3V2061.9H1523.3V2057.0H1520.3V2066.8H1519.3V2090.5H1516.8V2082.9H1514.8V2064.7H1513.3V2072.3H1510.3V2095.5H1507.3V2089.8H1506.3V2088.4H1503.3V2051.6H1500.3V2048.3H1498.3V2065.4H1496.8V2092.2H1494.3V2091.2H1491.3V2085.8H1490.3V2079.2H1488.8V2063.5H1487.8V2055.3H1484.8V2058.0H1483.8V2061.8H1482.8V2074.9H1481.3V2088.4H1479.8V2088.5H1478.8V2081.2H1477.3V2068.8H1475.3V2081.4H1474.3V2092.5H1471.8V2077.4H1470.3V2063.4H1467.3V2055.0H1465.3V2066.8H1463.3V2084.5H1461.3V2087.0H1460.3V2083.2H1458.8V2074.6H1457.3V2068.8H1455.3V2062.9H1453.8V2081.6H1451.8V2093.9H1449.3V2079.7H1447.8V2065.6H1445.8V2070.3H1443.3V2085.0H1440.3V2085.1H1437.3V2073.5H1435.3V2073.9H1434.3V2086.8H1432.3V2084.2H1431.3V2077.7H1430.3V2073.2H1427.8V2062.3H1425.8V2070.6H1424.3V2081.3H1423.3V2089.6H1420.8V2092.0H1418.3V2099.5H1416.3V2101.2H1415.3V2103.1H1412.3V2085.8H1410.3V2078.0H1408.8V2076.4H1407.3V2076.6H1406.3V2080.1H1404.3V2087.9H1401.8V2089.1H1400.8V2087.2H1398.3V2087.8H1395.8V2095.3H1394.8V2104.9H1392.8V2096.2H1389.8V2064.8H1387.8V2052.3H1386.8V2079.5H1384.8V2100.5H1382.8V2099.0H1379.8V2092.5H1377.8V2078.0H1376.3V2068.9H1374.3V2060.4H1372.8V2085.7H1369.8V2102.9H1367.3V2099.6H1365.8V2092.2H1363.8V2078.5H1361.8V2077.9H1360.8V2091.2H1358.3V2095.5H1357.3V2098.4H1354.3V2078.1H1352.3V2067.8H1351.3V2063.2H1350.3V2058.8H1348.3V2050.7H1345.3V2051.1H1343.3V2065.1H1342.3V2087.5H1340.8V2094.2H1338.8V2076.3H1337.8V2092.1H1335.3V2095.2H1333.8V2097.8H1331.8V2100.5H1329.8V2065.8H1328.8V2071.6H1327.3V2081.6H1325.3V2090.3H1322.8V2091.3H1321.8V2087.1H1319.3V2084.7H1316.3V2072.6H1314.3V2086.3H1312.3V2098.3H1310.8V2101.7H1309.3V2083.6H1307.8V2069.5H1304.8V2092.0H1303.3V2100.6H1301.3V2097.9H1299.3V2092.9H1296.8V2073.9H1294.8V2066.9H1292.8V2100.1H1290.3V2099.0H1289.3V2090.3H1286.3V2076.1H1285.3V2086.6H1283.3V2099.2H1281.8V2101.2H1280.8V2091.4H1278.8V2099.5H1275.8V2100.7H1274.8V2096.5H1272.8V2089.2H1271.8V2073.2H1270.8V2045.8H1267.8V2046.2H1264.8V2100.3H1262.8V2088.7H1261.3V2080.6H1258.8V2069.8H1257.3V2058.4H1256.3V2085.9H1253.8V2085.7H1252.3V2078.1H1251.3V2072.8H1249.3V2057.3H1246.8V2051.8H1245.8V2083.6H1242.8V2088.0H1241.3V2082.7H1238.3V2076.0H1236.3V2080.3H1235.3V2083.7H1233.8V2075.0H1232.3V2064.0H1229.8V2057.3H1228.8V2067.1H1226.8V2080.3H1223.8V2081.1H1221.8V2059.5H1219.3V2063.9H1218.3V2071.7H1217.3V2071.4H1215.8V2071.8H1214.3V2065.6H1213.3V2074.9H1211.3V2087.7H1209.8V2087.5H1206.8V2088.5H1205.8V2086.4H1203.3V2077.5H1201.3V2068.3H1199.3V2072.0H1197.3V2084.1H1195.3V2089.8H1194.3V2094.1H1193.3V2090.7H1191.3V2073.6H1190.3V2069.3H1188.3V2061.1H1187.3V2077.1H1185.3V2092.5H1183.3V2092.9H1182.3V2084.3H1180.3V2070.6H1177.8V2067.4H1174.8V2091.0H1172.3V2083.5H1169.3V2080.6H1167.3V2068.2H1164.3V2076.0H1162.8V2085.3H1161.3V2074.8H1159.3V2054.8H1156.3V2062.5H1153.3V2077.2H1150.3V2081.1H1147.8V2081.6H1145.8V2057.6H1143.8V2035.4H1142.3V2038.8H1141.3V2081.0H1139.3V2092.7H1137.3V2085.2H1136.3V2080.7H1134.3V2092.8H1132.8V2101.2H1130.8V2096.0H1128.3V2087.1H1127.3V2083.6H1124.8V2048.5H1123.8V2049.6H1122.3V2068.4H1120.3V2086.3H1119.3V2098.0H1116.3V2085.5H1114.3V2096.5H1111.3V2098.0H1108.3V2073.5H1106.3V2094.4H1104.3V2105.3H1101.3V2082.8H1099.8V2096.6H1097.8V2100.0H1094.8V2080.3H1091.8V2073.2H1090.3V2077.2H1088.8V2081.5H1086.8V2062.1H1084.8V2058.8H1083.8V2061.8H1082.8V2082.3H1080.3V2089.6H1078.3V2084.8H1075.8V2076.8H1074.8V2073.3H1072.8V2069.2H1071.3V2086.6H1068.3V2075.6H1065.8V2086.3H1063.3V2077.8H1060.8V2057.4H1058.8V2051.0H1056.3V2045.9H1053.3V2082.2H1051.3V2092.8H1048.8V2094.4H1046.3V2065.9H1043.8V2061.7H1042.3V2054.0H1039.3V2042.6H1037.3V2040.3H1036.3V2042.3H1034.3V2053.9H1031.8V2065.6H1029.3V2066.7H1027.8V2091.5H1026.3V2117.0H1024.8V2120.3H1022.8V2113.8H1020.3V2084.0H1018.8V2077.7H1017.3V2086.7H1015.8V2099.3H1013.8V2098.6H1010.8V2075.9H1009.8V2070.8H1008.3V2064.3H1005.8V2072.8H1003.8V2068.9H1002.8V2065.2H1000.8V2074.6H998.3V2081.8H997.3V2089.1H996.3V2101.0H994.3V2080.7H993.3V2065.7H991.3V2086.2H988.3V2095.2H986.3V2090.4H983.3V2076.9H981.8V2073.2H980.8V2081.9H977.8V2086.4H975.8V2076.1H973.8V2064.3H971.8V2089.1H969.8V2112.5H967.3V2111.4H965.3V2101.4H963.8V2099.8H962.8V2091.7H960.8V2099.7H957.8V2100.4H954.8V2118.7H953.3V2119.5H951.3V2119.1H948.3V2124.8H945.8V2081.3H944.8V2084.0H943.8V2099.4H940.8V2108.0H938.8V2108.9H936.8V2107.5H934.8V2105.6H932.8V2091.5H930.8V2091.3H928.3V2091.9H926.3V2085.5H925.3V2103.4H922.8V2115.7H920.3V2114.6H919.3V2109.8H916.8V2109.5H914.8V2117.4H912.3V2110.4H909.8V2100.9H906.8V2102.7H904.3V2094.0H902.3V2094.4H900.3V2105.0H897.8V2098.2H896.8V2096.9H894.8V2101.1H892.8V2104.2H891.3V2108.7H888.3V2099.9H885.3V2089.0H883.3V2100.2H880.3V2090.5H878.3V2099.1H876.3V2107.3H873.3V2113.4H871.3V2115.5H868.3V2100.9H867.3V2096.0H865.3V2107.5H862.3V2111.3H859.3V2111.5H858.3V2114.1H856.3V2117.1H855.3V2121.5H853.8V2122.9H851.8V2116.6H849.8V2105.5H848.8V2102.2H846.3V2105.0H843.3V2118.6H840.3V2121.1H838.3V2113.0H836.3V2113.8H833.3V2115.7H831.3V2113.8H828.8V2112.3H826.8V2116.9H824.8V2120.9H823.8V2125.2H822.3V2120.3H820.3V2113.4H818.3V2121.0H815.8V2121.1H813.8V2077.9H811.8V2103.7H808.8V2102.6H806.8V2104.0H804.8V2116.0H802.3V2118.3H801.3V2101.2H799.8V2106.6H797.3V2122.7H794.3V2121.4H792.3V2121.4H791.3V2123.7H789.3V2115.2H787.3V2106.0H784.8V2101.2H783.8V2109.7H782.3V2114.5H780.3V2108.1H778.3V2102.8H775.8V2115.4H772.8V2119.3H771.8V2125.3H770.8V2127.4H768.3V2117.8H766.3V2118.6H764.3V2120.6H763.3V2121.1H760.8V2114.8H758.8V2108.3H755.8V2109.7H752.8V2103.1H751.8V2111.5H749.3V2119.0H746.8V2123.3H743.8V2117.4H741.8V2099.2H740.3V2101.0H737.8V2114.0H735.8V2112.7H733.8V2102.1H731.3V2106.8H728.8V2107.4H726.8V2101.3H724.3V2097.9H722.8V2105.1H720.3V2106.2H717.3V2099.9H714.3V2111.9H712.8V2124.9H710.8V2122.7H707.8V2111.9H705.8V2124.4H703.8V2122.9H700.8V2106.0H699.8V2105.9H696.8V2114.6H693.8V2115.3H691.3V2106.4H690.3V2104.0H688.3V2113.2H686.3V2109.8H683.3V2099.6H680.3V2107.8H677.3V2117.4H675.3V2117.2H673.8V2110.9H671.8V2100.9H669.8V2113.3H666.8V2115.4H664.8V2108.4H662.3V2095.1H659.8V2091.7H657.8V2094.3H655.8V2104.3H654.8V2111.6H653.8V2121.3H651.8V2118.0H648.8V2106.2H647.8V2106.9H645.3V2112.8H642.3V2084.2H639.8V2102.2H637.8V2104.6H635.8V2078.2H633.8V2067.1H630.8V2074.3H629.3V2094.8H626.3V2103.7H625.3V2106.0H622.3V2094.5H619.3V2086.6H617.3V2073.1H616.3V2079.6H614.3V2083.9H613.3V2090.7H611.3V2098.5H609.3V2108.5H607.3V2108.0H604.8V2100.7H601.8V2089.0H599.8V2102.3H596.8V2104.4H595.8V2109.8H594.8V2112.0H593.3V2103.8H591.3V2084.8H590.3V2076.8H589.3V2067.5H587.3V2076.1H584.8V2077.1H583.8V2058.5H581.8V2063.7H580.8V2068.7H579.3V2080.7H577.3V2090.2H575.3V2101.7H572.8V2099.6H571.3V2090.1H569.3V2080.8H568.3V2079.9H566.3V2077.7H565.3V2076.2H564.3V2104.7H562.8V2110.7H560.3V2094.0H558.3V2079.2H556.8V2081.4H555.3V2097.0H552.3V2085.6H550.3V2069.0H548.3V2059.1H545.8V2099.9H543.3V2096.9H541.3V2083.9H540.3V2102.5H538.3V2106.9H536.3V2075.2H533.3V2072.6H532.3V2067.3H530.3V2061.7H528.3V2091.9H525.8V2092.7H523.8V2087.5H522.3V2082.1H519.3V2070.8H518.3V2083.1H515.3V2101.2H513.3V2100.4H510.3V2076.4H507.8V2066.9H506.8V2066.5H503.8V2074.1H501.8V2094.9H499.3V2098.3H497.3V2063.7H495.3V2062.0H493.8V2071.2H491.3V2098.7H488.3V2099.5H486.8V2095.5H485.8V2091.8H483.3V2080.1H480.8V2089.6H478.8V2097.7H477.8V2093.3H476.3V2077.9H473.3V2057.5H471.3V2066.8H468.3V2086.5H466.3V2084.9H463.3V2076.3H460.3V2079.8H458.3V2077.5H455.8V2078.3H453.3V2076.7H452.3V2067.4H450.3V2068.4H447.8V2073.0H445.8V2061.7H443.8V2043.1H441.8V2030.9H439.8V2046.9H437.3V2061.9H434.8V2056.2H433.3V2043.2H431.8V2053.6H430.8V2054.3H428.8V2057.8H426.8V2083.8H424.3V2095.6H421.3V2092.3H419.3V2086.2H417.3V2058.5H414.8V2067.3H412.8V2063.9H410.3V2073.2H408.3V2078.3H405.3V2046.3H402.8V2016.7H401.8V2029.5H399.8V2049.9H398.3V2065.7H397.3V2072.4H395.8V2072.5H393.8V2074.2H391.8V2065.2H389.8V2057.2H387.8V2068.4H385.3V2071.7H383.8V2058.7H381.8V2034.7H378.8V2063.8H375.8V2076.3H373.8V2073.6H372.8V2074.9H370.3V2062.4H367.3V2038.2H364.8V2026.3H362.8V2034.9H361.8V2052.7H359.3V2057.4H357.3V2055.4H355.3V2052.0H353.8V2058.9H350.8V2061.6H348.8V2063.8H347.8V2071.5H345.3V2074.0H344.3V2084.0H341.3V2089.6H339.3V2084.7H338.3V2057.5H336.3V2068.4H334.8V2069.7H331.8V2078.0H329.8V2075.1H327.3V2072.2H325.8V2046.0H324.3V2022.8H323.3V2029.4H321.3V2033.6H318.8V2034.7H316.3V2085.5H313.8V2083.9H312.3V2066.9H310.8V2060.4H309.3V2066.0H308.3V2071.5H307.3V2074.9H306.3V2069.7H304.3V2050.7H303.3V2043.8H301.3V2031.0H300.3V2086.8H298.3V2086.1H296.3V2099.0H294.3V2102.9H291.8V2058.0H289.8V2060.2H287.8V2066.1H286.8V2063.4H284.8V2046.0H282.8V2052.5H279.8V2073.6H276.8V2064.2H273.8V2058.1H271.8V2054.7H270.8V2044.4H268.8V2097.1H265.8V2095.5H262.8V2092.9H261.3V2097.6H259.8V2099.4H258.8V2100.4H256.8V2094.8H254.3V2137.2H251.8V2130.7H249.3V2127.0H247.8V2196.9H246.3V2197.7H244.8V2199.2H242.8V2199.3H241.8V2198.8H240.8V2198.0H238.8Z" fill="#0000ff" stroke="#0000ff" stroke-width="2.2" stroke-linejoin="round"/>
<rect x="207.0" y="29.2" width="2148.5" height="548.8" fill="none" stroke="#000" stroke-width="3.8"/>
<path d="M207.0 76.9h17M207.0 124.7h9M207.0 172.5h17M207.0 220.3h9M207.0 268.1h17M207.0 315.8h9M207.0 363.6h17M207.0 411.4h9M207.0 459.2h17M207.0 507.0h9M207.0 554.8h17M239.4 578.0v-17M404.7 578.0v-9M570.0 578.0v-17M735.4 578.0v-9M900.7 578.0v-17M1066.0 578.0v-9M1231.3 578.0v-17M1396.7 578.0v-9M1562.0 578.0v-17M1727.3 578.0v-9M1892.7 578.0v-17M2058.0 578.0v-9M2223.3 578.0v-17" stroke="#000" stroke-width="3.4" fill="none"/>
<text x="188.0" y="96.9" text-anchor="end" font-size="69">120</text>
<text x="188.0" y="192.5" text-anchor="end" font-size="69">80</text>
<text x="188.0" y="288.1" text-anchor="end" font-size="69">40</text>
<text x="188.0" y="383.6" text-anchor="end" font-size="69">0</text>
<text x="188.0" y="479.2" text-anchor="end" font-size="69">-40</text>
<text x="188.0" y="574.8" text-anchor="end" font-size="69">-80</text>
<text x="239.4" y="651.5" text-anchor="middle" font-size="69">0</text>
<text x="570.0" y="651.5" text-anchor="middle" font-size="69">15,000</text>
<text x="900.7" y="651.5" text-anchor="middle" font-size="69">30,000</text>
<text x="1231.3" y="651.5" text-anchor="middle" font-size="69">45,000</text>
<text x="1562.0" y="651.5" text-anchor="middle" font-size="69">60,000</text>
<text x="1892.7" y="651.5" text-anchor="middle" font-size="69">75,000</text>
<text x="2223.3" y="651.5" text-anchor="middle" font-size="69">90,000</text>
<text x="1279.8" y="727.0" text-anchor="middle" font-size="69.3">Sampling Number</text>
<text transform="translate(75.4 302.6) rotate(-90)" text-anchor="middle" font-size="69.6">Amplitude (N)</text>
<path d="M272.3 94.8H400.9" stroke="#000" stroke-width="4" stroke-linecap="round"/>
<text x="417.5" y="113.0" font-size="57.2">Fx of C6</text>
<text x="748.2" y="818.8" font-size="75" letter-spacing="-0.45" stroke="#000" stroke-width="0.7">(<tspan font-weight="bold">a</tspan>)</text>
<text x="855.6" y="818.8" font-size="75" letter-spacing="2.99" stroke="#000" stroke-width="0.7">x-direction</text>
<text x="1234.9" y="818.8" font-size="75" letter-spacing="3.82" stroke="#000" stroke-width="0.7">cutting</text>
<text x="1484.2" y="818.8" font-size="75" letter-spacing="2.30" stroke="#000" stroke-width="0.7">force</text>
<rect x="230.8" y="868.0" width="2124.7" height="549.0" fill="none" stroke="#000" stroke-width="3.8"/>
<path d="M230.8 923.0h17M230.8 977.9h9M230.8 1032.8h17M230.8 1087.6h9M230.8 1142.4h17M230.8 1197.3h9M230.8 1252.2h17M230.8 1307.1h9M230.8 1362.0h17M263.8 1417.0v-17M427.2 1417.0v-9M590.7 1417.0v-17M754.1 1417.0v-9M917.5 1417.0v-17M1080.9 1417.0v-9M1244.4 1417.0v-17M1407.8 1417.0v-9M1571.2 1417.0v-17M1734.6 1417.0v-9M1898.0 1417.0v-17M2061.5 1417.0v-9M2224.9 1417.0v-17" stroke="#000" stroke-width="3.4" fill="none"/>
<text x="209.8" y="943.0" text-anchor="end" font-size="69">0.8</text>
<text x="209.8" y="1052.8" text-anchor="end" font-size="69">0.4</text>
<text x="211.8" y="1162.4" text-anchor="end" font-size="69">0.0</text>
<text x="209.8" y="1272.2" text-anchor="end" font-size="69">-0.4</text>
<text x="209.8" y="1382.0" text-anchor="end" font-size="69">-0.8</text>
<text x="263.8" y="1490.5" text-anchor="middle" font-size="69">0</text>
<text x="590.7" y="1490.5" text-anchor="middle" font-size="69">15,000</text>
<text x="917.5" y="1490.5" text-anchor="middle" font-size="69">30,000</text>
<text x="1244.4" y="1490.5" text-anchor="middle" font-size="69">45,000</text>
<text x="1571.2" y="1490.5" text-anchor="middle" font-size="69">60,000</text>
<text x="1898.0" y="1490.5" text-anchor="middle" font-size="69">75,000</text>
<text x="2224.9" y="1490.5" text-anchor="middle" font-size="69">90,000</text>
<text x="1291.7" y="1562.3" text-anchor="middle" font-size="69.3">Sampling Number</text>
<text transform="translate(80.0 1141.5) rotate(-90)" text-anchor="middle" font-size="69.6">Amplitude (g)</text>
<path d="M295.3 933.9H422.9" stroke="#8000ff" stroke-width="4" stroke-linecap="round"/>
<text x="440" y="952.0" font-size="57.2">Vx of C6</text>
<text x="799.8" y="1657.8" font-size="75" letter-spacing="1.45" stroke="#000" stroke-width="0.7">(<tspan font-weight="bold">b</tspan>)</text>
<text x="915.2" y="1657.8" font-size="75" letter-spacing="3.05" stroke="#000" stroke-width="0.7">x-direction</text>
<text x="1294.6" y="1657.8" font-size="75" letter-spacing="4.05" stroke="#000" stroke-width="0.7">vibration</text>
<rect x="207.0" y="1707.0" width="2148.5" height="549.0" fill="none" stroke="#000" stroke-width="3.8"/>
<path d="M207.0 1730.5h17M207.0 1788.9h9M207.0 1847.4h17M207.0 1905.8h9M207.0 1964.2h17M207.0 2022.7h9M207.0 2081.1h17M207.0 2139.6h9M207.0 2198.0h17M239.4 2256.0v-17M404.7 2256.0v-9M570.0 2256.0v-17M735.4 2256.0v-9M900.7 2256.0v-17M1066.0 2256.0v-9M1231.3 2256.0v-17M1396.7 2256.0v-9M1562.0 2256.0v-17M1727.3 2256.0v-9M1892.7 2256.0v-17M2058.0 2256.0v-9M2223.3 2256.0v-17" stroke="#000" stroke-width="3.4" fill="none"/>
<text x="186.0" y="1750.5" text-anchor="end" font-size="69">0.4</text>
<text x="186.0" y="1867.4" text-anchor="end" font-size="69">0.3</text>
<text x="186.0" y="1984.2" text-anchor="end" font-size="69">0.2</text>
<text x="186.0" y="2101.1" text-anchor="end" font-size="69">0.1</text>
<text x="188.0" y="2218.0" text-anchor="end" font-size="69">0.0</text>
<text x="239.4" y="2329.5" text-anchor="middle" font-size="69">0</text>
<text x="570.0" y="2329.5" text-anchor="middle" font-size="69">15,000</text>
<text x="900.7" y="2329.5" text-anchor="middle" font-size="69">30,000</text>
<text x="1231.3" y="2329.5" text-anchor="middle" font-size="69">45,000</text>
<text x="1562.0" y="2329.5" text-anchor="middle" font-size="69">60,000</text>
<text x="1892.7" y="2329.5" text-anchor="middle" font-size="69">75,000</text>
<text x="2223.3" y="2329.5" text-anchor="middle" font-size="69">90,000</text>
<text x="1279.8" y="2405.0" text-anchor="middle" font-size="69.3">Sampling Number</text>
<text transform="translate(80.0 1980.5) rotate(-90)" text-anchor="middle" font-size="69.6">Amplitude (V)</text>
<path d="M272.3 1773.0H400.9" stroke="#0000ff" stroke-width="4" stroke-linecap="round"/>
<text x="417.5" y="1791.5" font-size="57.2">AE of C6</text>
<text x="848.8" y="2496.6" font-size="75" letter-spacing="-0.75" stroke="#000" stroke-width="0.7">(<tspan font-weight="bold">c</tspan>)</text>
<text x="948.1" y="2496.6" font-size="75" letter-spacing="3.11" stroke="#000" stroke-width="0.7">Acoustic</text>
<text x="1253.7" y="2496.6" font-size="75" letter-spacing="4.23" stroke="#000" stroke-width="0.7">emission</text>
</svg></body></html>
